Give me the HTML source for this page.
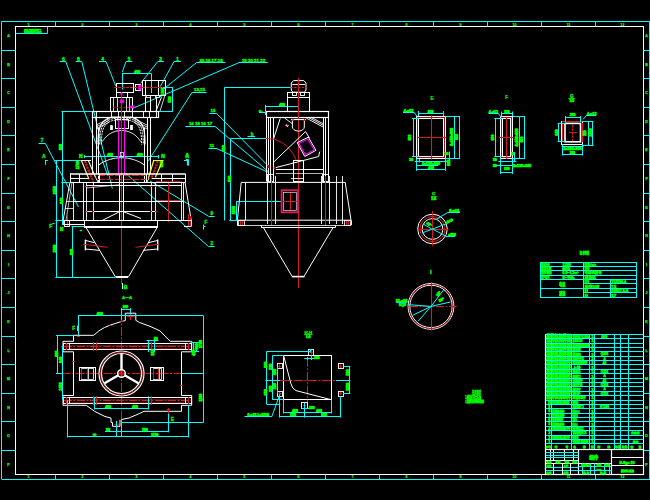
<!DOCTYPE html>
<html><head><meta charset="utf-8"><title>CAD drawing</title>
<style>
html,body{margin:0;padding:0;background:#000;}
body{width:650px;height:500px;overflow:hidden;}
svg{display:block;font-family:"Liberation Sans","Noto Sans CJK SC",sans-serif;}
</style></head><body>
<svg width="650" height="500" viewBox="0 0 650 500">
<rect x="0" y="0" width="650" height="500" fill="#000"/>
<line x1="1.5" y1="21.5" x2="650.0" y2="21.5" stroke="#00ffff" stroke-width="1"/>
<line x1="1.5" y1="479.5" x2="650.0" y2="479.5" stroke="#00ffff" stroke-width="1"/>
<line x1="1.5" y1="21.5" x2="1.5" y2="479.0" stroke="#00ffff" stroke-width="1"/>
<line x1="649.5" y1="21.5" x2="649.5" y2="479.0" stroke="#00ffff" stroke-width="1"/>
<rect x="15.5" y="26.5" width="628.0" height="448.0" fill="none" stroke="#ffffff" stroke-width="1"/>
<line x1="55.5" y1="21.5" x2="55.5" y2="26.5" stroke="#00ffff" stroke-width="1"/>
<line x1="55.5" y1="474.5" x2="55.5" y2="479.0" stroke="#00ffff" stroke-width="1"/>
<line x1="109.5" y1="21.5" x2="109.5" y2="26.5" stroke="#00ffff" stroke-width="1"/>
<line x1="109.5" y1="474.5" x2="109.5" y2="479.0" stroke="#00ffff" stroke-width="1"/>
<line x1="163.5" y1="21.5" x2="163.5" y2="26.5" stroke="#00ffff" stroke-width="1"/>
<line x1="163.5" y1="474.5" x2="163.5" y2="479.0" stroke="#00ffff" stroke-width="1"/>
<line x1="217.5" y1="21.5" x2="217.5" y2="26.5" stroke="#00ffff" stroke-width="1"/>
<line x1="217.5" y1="474.5" x2="217.5" y2="479.0" stroke="#00ffff" stroke-width="1"/>
<line x1="271.5" y1="21.5" x2="271.5" y2="26.5" stroke="#00ffff" stroke-width="1"/>
<line x1="271.5" y1="474.5" x2="271.5" y2="479.0" stroke="#00ffff" stroke-width="1"/>
<line x1="325.5" y1="21.5" x2="325.5" y2="26.5" stroke="#00ffff" stroke-width="1"/>
<line x1="325.5" y1="474.5" x2="325.5" y2="479.0" stroke="#00ffff" stroke-width="1"/>
<line x1="379.5" y1="21.5" x2="379.5" y2="26.5" stroke="#00ffff" stroke-width="1"/>
<line x1="379.5" y1="474.5" x2="379.5" y2="479.0" stroke="#00ffff" stroke-width="1"/>
<line x1="433.5" y1="21.5" x2="433.5" y2="26.5" stroke="#00ffff" stroke-width="1"/>
<line x1="433.5" y1="474.5" x2="433.5" y2="479.0" stroke="#00ffff" stroke-width="1"/>
<line x1="487.5" y1="21.5" x2="487.5" y2="26.5" stroke="#00ffff" stroke-width="1"/>
<line x1="487.5" y1="474.5" x2="487.5" y2="479.0" stroke="#00ffff" stroke-width="1"/>
<line x1="541.5" y1="21.5" x2="541.5" y2="26.5" stroke="#00ffff" stroke-width="1"/>
<line x1="541.5" y1="474.5" x2="541.5" y2="479.0" stroke="#00ffff" stroke-width="1"/>
<line x1="595.5" y1="21.5" x2="595.5" y2="26.5" stroke="#00ffff" stroke-width="1"/>
<line x1="595.5" y1="474.5" x2="595.5" y2="479.0" stroke="#00ffff" stroke-width="1"/>
<text x="28.5" y="25.7" font-size="3.4" fill="#00ff00" text-anchor="middle" font-weight="bold" stroke="#00ff00" stroke-width="0.2">1</text>
<text x="28.5" y="478.4" font-size="3.4" fill="#00ff00" text-anchor="middle" font-weight="bold" stroke="#00ff00" stroke-width="0.2">1</text>
<text x="82.5" y="25.7" font-size="3.4" fill="#00ff00" text-anchor="middle" font-weight="bold" stroke="#00ff00" stroke-width="0.2">2</text>
<text x="82.5" y="478.4" font-size="3.4" fill="#00ff00" text-anchor="middle" font-weight="bold" stroke="#00ff00" stroke-width="0.2">2</text>
<text x="136.5" y="25.7" font-size="3.4" fill="#00ff00" text-anchor="middle" font-weight="bold" stroke="#00ff00" stroke-width="0.2">3</text>
<text x="136.5" y="478.4" font-size="3.4" fill="#00ff00" text-anchor="middle" font-weight="bold" stroke="#00ff00" stroke-width="0.2">3</text>
<text x="190.5" y="25.7" font-size="3.4" fill="#00ff00" text-anchor="middle" font-weight="bold" stroke="#00ff00" stroke-width="0.2">4</text>
<text x="190.5" y="478.4" font-size="3.4" fill="#00ff00" text-anchor="middle" font-weight="bold" stroke="#00ff00" stroke-width="0.2">4</text>
<text x="244.5" y="25.7" font-size="3.4" fill="#00ff00" text-anchor="middle" font-weight="bold" stroke="#00ff00" stroke-width="0.2">5</text>
<text x="244.5" y="478.4" font-size="3.4" fill="#00ff00" text-anchor="middle" font-weight="bold" stroke="#00ff00" stroke-width="0.2">5</text>
<text x="298.5" y="25.7" font-size="3.4" fill="#00ff00" text-anchor="middle" font-weight="bold" stroke="#00ff00" stroke-width="0.2">6</text>
<text x="298.5" y="478.4" font-size="3.4" fill="#00ff00" text-anchor="middle" font-weight="bold" stroke="#00ff00" stroke-width="0.2">6</text>
<text x="352.5" y="25.7" font-size="3.4" fill="#00ff00" text-anchor="middle" font-weight="bold" stroke="#00ff00" stroke-width="0.2">7</text>
<text x="352.5" y="478.4" font-size="3.4" fill="#00ff00" text-anchor="middle" font-weight="bold" stroke="#00ff00" stroke-width="0.2">7</text>
<text x="406.5" y="25.7" font-size="3.4" fill="#00ff00" text-anchor="middle" font-weight="bold" stroke="#00ff00" stroke-width="0.2">8</text>
<text x="406.5" y="478.4" font-size="3.4" fill="#00ff00" text-anchor="middle" font-weight="bold" stroke="#00ff00" stroke-width="0.2">8</text>
<text x="460.5" y="25.7" font-size="3.4" fill="#00ff00" text-anchor="middle" font-weight="bold" stroke="#00ff00" stroke-width="0.2">9</text>
<text x="460.5" y="478.4" font-size="3.4" fill="#00ff00" text-anchor="middle" font-weight="bold" stroke="#00ff00" stroke-width="0.2">9</text>
<text x="514.5" y="25.7" font-size="3.4" fill="#00ff00" text-anchor="middle" font-weight="bold" stroke="#00ff00" stroke-width="0.2">10</text>
<text x="514.5" y="478.4" font-size="3.4" fill="#00ff00" text-anchor="middle" font-weight="bold" stroke="#00ff00" stroke-width="0.2">10</text>
<text x="568.5" y="25.7" font-size="3.4" fill="#00ff00" text-anchor="middle" font-weight="bold" stroke="#00ff00" stroke-width="0.2">11</text>
<text x="568.5" y="478.4" font-size="3.4" fill="#00ff00" text-anchor="middle" font-weight="bold" stroke="#00ff00" stroke-width="0.2">11</text>
<text x="622.5" y="25.7" font-size="3.4" fill="#00ff00" text-anchor="middle" font-weight="bold" stroke="#00ff00" stroke-width="0.2">12</text>
<text x="622.5" y="478.4" font-size="3.4" fill="#00ff00" text-anchor="middle" font-weight="bold" stroke="#00ff00" stroke-width="0.2">12</text>
<text x="8.5" y="36.9" font-size="3.6" fill="#00ff00" text-anchor="middle" font-weight="bold" stroke="#00ff00" stroke-width="0.25">A</text>
<text x="646.5" y="36.9" font-size="3.6" fill="#00ff00" text-anchor="middle" font-weight="bold" stroke="#00ff00" stroke-width="0.25">A</text>
<line x1="1.5" y1="50.5" x2="15.5" y2="50.5" stroke="#00ffff" stroke-width="1"/>
<line x1="643.5" y1="50.5" x2="650.0" y2="50.5" stroke="#00ffff" stroke-width="1"/>
<text x="8.5" y="65.5" font-size="3.6" fill="#00ff00" text-anchor="middle" font-weight="bold" stroke="#00ff00" stroke-width="0.25">B</text>
<text x="646.5" y="65.5" font-size="3.6" fill="#00ff00" text-anchor="middle" font-weight="bold" stroke="#00ff00" stroke-width="0.25">B</text>
<line x1="1.5" y1="78.5" x2="15.5" y2="78.5" stroke="#00ffff" stroke-width="1"/>
<line x1="643.5" y1="78.5" x2="650.0" y2="78.5" stroke="#00ffff" stroke-width="1"/>
<text x="8.5" y="94.1" font-size="3.6" fill="#00ff00" text-anchor="middle" font-weight="bold" stroke="#00ff00" stroke-width="0.25">C</text>
<text x="646.5" y="94.1" font-size="3.6" fill="#00ff00" text-anchor="middle" font-weight="bold" stroke="#00ff00" stroke-width="0.25">C</text>
<line x1="1.5" y1="107.5" x2="15.5" y2="107.5" stroke="#00ffff" stroke-width="1"/>
<line x1="643.5" y1="107.5" x2="650.0" y2="107.5" stroke="#00ffff" stroke-width="1"/>
<text x="8.5" y="122.7" font-size="3.6" fill="#00ff00" text-anchor="middle" font-weight="bold" stroke="#00ff00" stroke-width="0.25">D</text>
<text x="646.5" y="122.7" font-size="3.6" fill="#00ff00" text-anchor="middle" font-weight="bold" stroke="#00ff00" stroke-width="0.25">D</text>
<line x1="1.5" y1="135.5" x2="15.5" y2="135.5" stroke="#00ffff" stroke-width="1"/>
<line x1="643.5" y1="135.5" x2="650.0" y2="135.5" stroke="#00ffff" stroke-width="1"/>
<text x="8.5" y="151.3" font-size="3.6" fill="#00ff00" text-anchor="middle" font-weight="bold" stroke="#00ff00" stroke-width="0.25">E</text>
<text x="646.5" y="151.3" font-size="3.6" fill="#00ff00" text-anchor="middle" font-weight="bold" stroke="#00ff00" stroke-width="0.25">E</text>
<line x1="1.5" y1="164.5" x2="15.5" y2="164.5" stroke="#00ffff" stroke-width="1"/>
<line x1="643.5" y1="164.5" x2="650.0" y2="164.5" stroke="#00ffff" stroke-width="1"/>
<text x="8.5" y="179.9" font-size="3.6" fill="#00ff00" text-anchor="middle" font-weight="bold" stroke="#00ff00" stroke-width="0.25">F</text>
<text x="646.5" y="179.9" font-size="3.6" fill="#00ff00" text-anchor="middle" font-weight="bold" stroke="#00ff00" stroke-width="0.25">F</text>
<line x1="1.5" y1="193.5" x2="15.5" y2="193.5" stroke="#00ffff" stroke-width="1"/>
<line x1="643.5" y1="193.5" x2="650.0" y2="193.5" stroke="#00ffff" stroke-width="1"/>
<text x="8.5" y="208.5" font-size="3.6" fill="#00ff00" text-anchor="middle" font-weight="bold" stroke="#00ff00" stroke-width="0.25">G</text>
<text x="646.5" y="208.5" font-size="3.6" fill="#00ff00" text-anchor="middle" font-weight="bold" stroke="#00ff00" stroke-width="0.25">G</text>
<line x1="1.5" y1="221.5" x2="15.5" y2="221.5" stroke="#00ffff" stroke-width="1"/>
<line x1="643.5" y1="221.5" x2="650.0" y2="221.5" stroke="#00ffff" stroke-width="1"/>
<text x="8.5" y="237.1" font-size="3.6" fill="#00ff00" text-anchor="middle" font-weight="bold" stroke="#00ff00" stroke-width="0.25">H</text>
<text x="646.5" y="237.1" font-size="3.6" fill="#00ff00" text-anchor="middle" font-weight="bold" stroke="#00ff00" stroke-width="0.25">H</text>
<line x1="1.5" y1="250.5" x2="15.5" y2="250.5" stroke="#00ffff" stroke-width="1"/>
<line x1="643.5" y1="250.5" x2="650.0" y2="250.5" stroke="#00ffff" stroke-width="1"/>
<text x="8.5" y="265.7" font-size="3.6" fill="#00ff00" text-anchor="middle" font-weight="bold" stroke="#00ff00" stroke-width="0.25">I</text>
<text x="646.5" y="265.7" font-size="3.6" fill="#00ff00" text-anchor="middle" font-weight="bold" stroke="#00ff00" stroke-width="0.25">I</text>
<line x1="1.5" y1="278.5" x2="15.5" y2="278.5" stroke="#00ffff" stroke-width="1"/>
<line x1="643.5" y1="278.5" x2="650.0" y2="278.5" stroke="#00ffff" stroke-width="1"/>
<text x="8.5" y="294.3" font-size="3.6" fill="#00ff00" text-anchor="middle" font-weight="bold" stroke="#00ff00" stroke-width="0.25">J</text>
<text x="646.5" y="294.3" font-size="3.6" fill="#00ff00" text-anchor="middle" font-weight="bold" stroke="#00ff00" stroke-width="0.25">J</text>
<line x1="1.5" y1="307.5" x2="15.5" y2="307.5" stroke="#00ffff" stroke-width="1"/>
<line x1="643.5" y1="307.5" x2="650.0" y2="307.5" stroke="#00ffff" stroke-width="1"/>
<text x="8.5" y="322.9" font-size="3.6" fill="#00ff00" text-anchor="middle" font-weight="bold" stroke="#00ff00" stroke-width="0.25">K</text>
<text x="646.5" y="322.9" font-size="3.6" fill="#00ff00" text-anchor="middle" font-weight="bold" stroke="#00ff00" stroke-width="0.25">K</text>
<line x1="1.5" y1="336.5" x2="15.5" y2="336.5" stroke="#00ffff" stroke-width="1"/>
<line x1="643.5" y1="336.5" x2="650.0" y2="336.5" stroke="#00ffff" stroke-width="1"/>
<text x="8.5" y="351.5" font-size="3.6" fill="#00ff00" text-anchor="middle" font-weight="bold" stroke="#00ff00" stroke-width="0.25">L</text>
<text x="646.5" y="351.5" font-size="3.6" fill="#00ff00" text-anchor="middle" font-weight="bold" stroke="#00ff00" stroke-width="0.25">L</text>
<line x1="1.5" y1="364.5" x2="15.5" y2="364.5" stroke="#00ffff" stroke-width="1"/>
<line x1="643.5" y1="364.5" x2="650.0" y2="364.5" stroke="#00ffff" stroke-width="1"/>
<text x="8.5" y="380.1" font-size="3.6" fill="#00ff00" text-anchor="middle" font-weight="bold" stroke="#00ff00" stroke-width="0.25">M</text>
<text x="646.5" y="380.1" font-size="3.6" fill="#00ff00" text-anchor="middle" font-weight="bold" stroke="#00ff00" stroke-width="0.25">M</text>
<line x1="1.5" y1="393.5" x2="15.5" y2="393.5" stroke="#00ffff" stroke-width="1"/>
<line x1="643.5" y1="393.5" x2="650.0" y2="393.5" stroke="#00ffff" stroke-width="1"/>
<text x="8.5" y="408.7" font-size="3.6" fill="#00ff00" text-anchor="middle" font-weight="bold" stroke="#00ff00" stroke-width="0.25">N</text>
<text x="646.5" y="408.7" font-size="3.6" fill="#00ff00" text-anchor="middle" font-weight="bold" stroke="#00ff00" stroke-width="0.25">N</text>
<line x1="1.5" y1="421.5" x2="15.5" y2="421.5" stroke="#00ffff" stroke-width="1"/>
<line x1="643.5" y1="421.5" x2="650.0" y2="421.5" stroke="#00ffff" stroke-width="1"/>
<text x="8.5" y="437.3" font-size="3.6" fill="#00ff00" text-anchor="middle" font-weight="bold" stroke="#00ff00" stroke-width="0.25">O</text>
<text x="646.5" y="437.3" font-size="3.6" fill="#00ff00" text-anchor="middle" font-weight="bold" stroke="#00ff00" stroke-width="0.25">O</text>
<line x1="1.5" y1="450.5" x2="15.5" y2="450.5" stroke="#00ffff" stroke-width="1"/>
<line x1="643.5" y1="450.5" x2="650.0" y2="450.5" stroke="#00ffff" stroke-width="1"/>
<text x="8.5" y="465.9" font-size="3.6" fill="#00ff00" text-anchor="middle" font-weight="bold" stroke="#00ff00" stroke-width="0.25">P</text>
<text x="646.5" y="465.9" font-size="3.6" fill="#00ff00" text-anchor="middle" font-weight="bold" stroke="#00ff00" stroke-width="0.25">P</text>
<line x1="15.5" y1="33.5" x2="47.6" y2="33.5" stroke="#00ffff" stroke-width="1"/>
<line x1="47.5" y1="26.5" x2="47.5" y2="33.5" stroke="#00ffff" stroke-width="1"/>
<text x="32.2" y="32.5" font-size="5.2" fill="#00ff00" text-anchor="middle" font-weight="bold" stroke="#00ff00" stroke-width="0.55" letter-spacing="-0.95">01-00XSG</text>
<line x1="59.7" y1="61.5" x2="65.8" y2="61.5" stroke="#00ffff" stroke-width="1"/>
<line x1="65.8" y1="61.6" x2="108.0" y2="176.0" stroke="#00ffff" stroke-width="1"/>
<text x="63.4" y="60.6" font-size="4.5" fill="#00ff00" text-anchor="middle" font-weight="bold" stroke="#00ff00" stroke-width="0.35">6</text>
<line x1="75.7" y1="61.5" x2="81.8" y2="61.5" stroke="#00ffff" stroke-width="1"/>
<line x1="81.8" y1="61.6" x2="112.3" y2="188.5" stroke="#00ffff" stroke-width="1"/>
<text x="78.6" y="60.6" font-size="4.5" fill="#00ff00" text-anchor="middle" font-weight="bold" stroke="#00ff00" stroke-width="0.35">8</text>
<line x1="99.0" y1="61.5" x2="106.0" y2="61.5" stroke="#00ffff" stroke-width="1"/>
<line x1="106.0" y1="61.6" x2="116.0" y2="86.5" stroke="#00ffff" stroke-width="1"/>
<text x="102.8" y="60.6" font-size="4.5" fill="#00ff00" text-anchor="middle" font-weight="bold" stroke="#00ff00" stroke-width="0.35">4</text>
<line x1="126.0" y1="61.5" x2="132.3" y2="61.5" stroke="#00ffff" stroke-width="1"/>
<line x1="126.0" y1="61.6" x2="122.2" y2="72.3" stroke="#00ffff" stroke-width="1"/>
<text x="129.0" y="60.6" font-size="4.5" fill="#00ff00" text-anchor="middle" font-weight="bold" stroke="#00ff00" stroke-width="0.35">5</text>
<line x1="157.7" y1="61.5" x2="163.8" y2="61.5" stroke="#00ffff" stroke-width="1"/>
<line x1="157.7" y1="61.6" x2="140.6" y2="83.4" stroke="#00ffff" stroke-width="1"/>
<text x="160.6" y="60.6" font-size="4.5" fill="#00ff00" text-anchor="middle" font-weight="bold" stroke="#00ff00" stroke-width="0.35">3</text>
<line x1="174.0" y1="61.5" x2="180.8" y2="61.5" stroke="#00ffff" stroke-width="1"/>
<line x1="174.0" y1="61.6" x2="160.3" y2="86.5" stroke="#00ffff" stroke-width="1"/>
<text x="177.4" y="60.6" font-size="4.5" fill="#00ff00" text-anchor="middle" font-weight="bold" stroke="#00ff00" stroke-width="0.35">1</text>
<line x1="196.4" y1="62.5" x2="225.3" y2="62.5" stroke="#00ffff" stroke-width="1"/>
<line x1="196.4" y1="62.7" x2="162.2" y2="90.2" stroke="#00ffff" stroke-width="1"/>
<text x="211.0" y="61.6" font-size="4.4" fill="#00ff00" text-anchor="middle" font-weight="bold" stroke="#00ff00" stroke-width="0.35">30,16,17,18</text>
<line x1="238.9" y1="62.5" x2="267.8" y2="62.5" stroke="#00ffff" stroke-width="1"/>
<line x1="238.9" y1="62.7" x2="133.2" y2="108.2" stroke="#00ffff" stroke-width="1"/>
<text x="253.5" y="61.6" font-size="4.4" fill="#00ff00" text-anchor="middle" font-weight="bold" stroke="#00ff00" stroke-width="0.35">19 20 21 22</text>
<line x1="192.0" y1="92.5" x2="206.6" y2="92.5" stroke="#00ffff" stroke-width="1"/>
<line x1="192.0" y1="92.4" x2="148.3" y2="160.8" stroke="#00ffff" stroke-width="1"/>
<text x="199.5" y="91.3" font-size="4.4" fill="#00ff00" text-anchor="middle" font-weight="bold" stroke="#00ff00" stroke-width="0.35">13,15</text>
<line x1="38.5" y1="143.5" x2="45.4" y2="143.5" stroke="#00ffff" stroke-width="1"/>
<line x1="45.4" y1="143.5" x2="78.5" y2="207.0" stroke="#00ffff" stroke-width="1"/>
<text x="42.0" y="142.4" font-size="4.5" fill="#00ff00" text-anchor="middle" font-weight="bold" stroke="#00ff00" stroke-width="0.35">7</text>
<line x1="208.5" y1="216.5" x2="214.6" y2="216.5" stroke="#00ffff" stroke-width="1"/>
<line x1="208.5" y1="216.2" x2="150.0" y2="181.0" stroke="#00ffff" stroke-width="1"/>
<text x="211.7" y="215.2" font-size="4.5" fill="#00ff00" text-anchor="middle" font-weight="bold" stroke="#00ff00" stroke-width="0.35">9</text>
<line x1="208.5" y1="246.5" x2="214.6" y2="246.5" stroke="#00ffff" stroke-width="1"/>
<line x1="208.5" y1="246.5" x2="125.8" y2="173.5" stroke="#00ffff" stroke-width="1"/>
<text x="211.7" y="245.4" font-size="4.5" fill="#00ff00" text-anchor="middle" font-weight="bold" stroke="#00ff00" stroke-width="0.35">2</text>
<line x1="122.0" y1="73.5" x2="151.0" y2="73.5" stroke="#00ffff" stroke-width="1"/>
<line x1="122.5" y1="73.3" x2="122.5" y2="89.5" stroke="#00ffff" stroke-width="1"/>
<line x1="151.5" y1="73.3" x2="151.5" y2="93.0" stroke="#00ffff" stroke-width="1"/>
<text x="137.2" y="72.6" font-size="3.6" fill="#00ff00" text-anchor="middle" font-weight="bold" stroke="#00ff00" stroke-width="0.6">400</text>
<line x1="172.5" y1="87.3" x2="172.5" y2="111.0" stroke="#00ffff" stroke-width="1"/>
<line x1="163.0" y1="87.5" x2="172.8" y2="87.5" stroke="#00ffff" stroke-width="1"/>
<line x1="158.0" y1="111.5" x2="172.8" y2="111.5" stroke="#00ffff" stroke-width="1"/>
<text x="171.5" y="99.4" font-size="3.6" fill="#00ff00" text-anchor="middle" font-weight="bold" stroke="#00ff00" stroke-width="0.7" transform="rotate(-90 171.5 99.4)">530</text>
<text x="164.1" y="91.2" font-size="3.6" fill="#00ff00" text-anchor="middle" font-weight="bold" stroke="#00ff00" stroke-width="0.7" transform="rotate(-90 164.1 91.2)">1200</text>
<line x1="62.5" y1="111.5" x2="62.5" y2="225.0" stroke="#00ffff" stroke-width="1"/>
<line x1="61.5" y1="111.5" x2="93.0" y2="111.5" stroke="#00ffff" stroke-width="1"/>
<text x="62.2" y="146.9" font-size="3.6" fill="#00ff00" text-anchor="middle" font-weight="bold" stroke="#00ff00" stroke-width="0.7" transform="rotate(-90 62.2 146.9)">860</text>
<text x="62.6" y="200.7" font-size="3.6" fill="#00ff00" text-anchor="middle" font-weight="bold" stroke="#00ff00" stroke-width="0.7" transform="rotate(-90 62.6 200.7)">640</text>
<line x1="56.5" y1="160.8" x2="56.5" y2="277.3" stroke="#00ffff" stroke-width="1"/>
<line x1="54.6" y1="160.5" x2="80.8" y2="160.5" stroke="#00ffff" stroke-width="1"/>
<line x1="55.4" y1="277.5" x2="115.4" y2="277.5" stroke="#00ffff" stroke-width="1"/>
<text x="55.9" y="190.2" font-size="3.6" fill="#00ff00" text-anchor="middle" font-weight="bold" stroke="#00ff00" stroke-width="0.7" transform="rotate(-90 55.9 190.2)">2450</text>
<text x="55.9" y="248.7" font-size="3.6" fill="#00ff00" text-anchor="middle" font-weight="bold" stroke="#00ff00" stroke-width="0.7" transform="rotate(-90 55.9 248.7)">1100</text>
<line x1="72.5" y1="226.5" x2="72.5" y2="277.3" stroke="#00ffff" stroke-width="1"/>
<line x1="71.5" y1="226.5" x2="84.6" y2="226.5" stroke="#00ffff" stroke-width="1"/>
<text x="72.8" y="251.9" font-size="3.6" fill="#00ff00" text-anchor="middle" font-weight="bold" stroke="#00ff00" stroke-width="0.7" transform="rotate(-90 72.8 251.9)">320</text>
<line x1="55.4" y1="220.5" x2="63.0" y2="220.5" stroke="#00ffff" stroke-width="1"/>
<line x1="61.5" y1="182.5" x2="69.0" y2="182.5" stroke="#00ffff" stroke-width="1"/>
<line x1="84.6" y1="156.5" x2="158.8" y2="156.5" stroke="#00ffff" stroke-width="1"/>
<line x1="84.5" y1="155.0" x2="84.5" y2="158.0" stroke="#00ffff" stroke-width="1"/>
<line x1="158.5" y1="155.0" x2="158.5" y2="158.5" stroke="#00ffff" stroke-width="1"/>
<text x="110.0" y="156.0" font-size="3.4" fill="#00ff00" text-anchor="middle" font-weight="bold" stroke="#00ff00" stroke-width="0.7">460</text>
<text x="139.8" y="156.0" font-size="3.4" fill="#00ff00" text-anchor="middle" font-weight="bold" stroke="#00ff00" stroke-width="0.7">460</text>
<text x="80.8" y="158.0" font-size="5" fill="#00ff00" text-anchor="middle" font-weight="bold" stroke="#00ff00" stroke-width="0.4">N</text>
<text x="163.0" y="158.4" font-size="5" fill="#00ff00" text-anchor="middle" font-weight="bold" stroke="#00ff00" stroke-width="0.4">N</text>
<text x="79.0" y="165.2" font-size="3.6" fill="#00ff00" text-anchor="middle" font-weight="bold" stroke="#00ff00" stroke-width="0.7" transform="rotate(-90 79.0 165.2)">1790</text>
<text x="163.0" y="164.2" font-size="3.6" fill="#00ff00" text-anchor="middle" font-weight="bold" stroke="#00ff00" stroke-width="0.7" transform="rotate(-90 163.0 164.2)">980</text>
<text x="61.5" y="231.3" font-size="4.5" fill="#00ff00" text-anchor="middle" font-weight="bold" stroke="#00ff00" stroke-width="0.5">N</text>
<text x="80.8" y="231.6" font-size="5" fill="#00ff00" text-anchor="middle" font-weight="bold" stroke="#00ff00" stroke-width="0.8">-</text>
<text x="43.8" y="158.0" font-size="5" fill="#00ff00" text-anchor="middle" font-weight="bold" stroke="#00ff00" stroke-width="0.3">A</text>
<line x1="45.5" y1="160.0" x2="45.5" y2="164.8" stroke="#00ffff" stroke-width="1"/>
<line x1="45.4" y1="160.5" x2="47.8" y2="160.5" stroke="#00ffff" stroke-width="1"/>
<text x="187.4" y="158.0" font-size="5" fill="#00ff00" text-anchor="middle" font-weight="bold" stroke="#00ff00" stroke-width="0.3">A</text>
<line x1="187.5" y1="160.0" x2="187.5" y2="165.6" stroke="#00ffff" stroke-width="1"/>
<line x1="184.0" y1="160.5" x2="187.7" y2="160.5" stroke="#00ffff" stroke-width="1"/>
<text x="50.8" y="227.5" font-size="5" fill="#00ff00" text-anchor="middle" font-weight="bold" stroke="#00ff00" stroke-width="0.3">F</text>
<line x1="52.5" y1="223.5" x2="54.5" y2="223.5" stroke="#00ffff" stroke-width="1"/>
<text x="205.8" y="224.0" font-size="4.5" fill="#00ff00" text-anchor="middle" font-weight="bold" stroke="#00ff00" stroke-width="0.3">F</text>
<line x1="203.5" y1="224.5" x2="203.5" y2="229.5" stroke="#00ffff" stroke-width="1"/>
<line x1="203.8" y1="226.5" x2="205.5" y2="226.5" stroke="#00ffff" stroke-width="1"/>
<text x="125.6" y="288.6" font-size="5.6" fill="#00ff00" text-anchor="middle" font-weight="bold" stroke="#00ff00" stroke-width="0.35">B</text>
<line x1="122.5" y1="283.0" x2="122.5" y2="289.0" stroke="#aaffff" stroke-width="1"/>
<text x="127.0" y="298.8" font-size="4.2" fill="#00ff00" text-anchor="middle" font-weight="bold" stroke="#00ff00" stroke-width="0.3">A—A</text>
<rect x="116.5" y="83.5" width="17.0" height="9.0" fill="none" stroke="#ffffff" stroke-width="1"/>
<rect x="135.5" y="84.5" width="5.0" height="6.0" fill="none" stroke="#ffffff" stroke-width="1"/>
<rect x="138.8" y="85.2" width="2.2" height="4.6" fill="#ff00ff" stroke="#ff00ff" stroke-width="1"/>
<rect x="142.5" y="80.5" width="23.0" height="15.0" fill="none" stroke="#ffffff" stroke-width="1"/>
<line x1="145.5" y1="80.3" x2="145.5" y2="95.1" stroke="#ffffff" stroke-width="1"/>
<line x1="158.5" y1="80.3" x2="158.5" y2="95.1" stroke="#ffffff" stroke-width="1"/>
<rect x="146.5" y="95.5" width="4.0" height="2.0" fill="none" stroke="#ffffff" stroke-width="0.8"/>
<rect x="155.5" y="95.5" width="4.0" height="2.0" fill="none" stroke="#ffffff" stroke-width="0.8"/>
<line x1="114.0" y1="87.5" x2="163.0" y2="87.5" stroke="#d81c1c" stroke-width="1" stroke-dasharray="3 1"/>
<rect x="116.5" y="92.5" width="11.0" height="5.0" fill="none" stroke="#ffffff" stroke-width="1"/>
<rect x="110.5" y="97.5" width="22.0" height="14.0" fill="none" stroke="#ffffff" stroke-width="1"/>
<line x1="113.5" y1="97.5" x2="113.5" y2="111.5" stroke="#ffffff" stroke-width="0.8"/>
<line x1="117.5" y1="97.5" x2="117.5" y2="111.5" stroke="#ffffff" stroke-width="0.8"/>
<line x1="126.5" y1="97.5" x2="126.5" y2="111.5" stroke="#ffffff" stroke-width="0.8"/>
<line x1="129.5" y1="97.5" x2="129.5" y2="111.5" stroke="#ffffff" stroke-width="0.8"/>
<line x1="113.0" y1="107.5" x2="130.0" y2="107.5" stroke="#d81c1c" stroke-width="0.8" stroke-dasharray="2 1.5"/>
<rect x="120.3" y="100.0" width="3.1" height="2.6" fill="#ff00ff" stroke="#ff00ff" stroke-width="1"/>
<rect x="130.0" y="106.0" width="4.0" height="2.0" fill="#ff00ff" stroke="#ff00ff" stroke-width="0.8"/>
<line x1="121.5" y1="92.0" x2="121.5" y2="111.0" stroke="#d81c1c" stroke-width="1.2"/>
<polyline points="119.5,95.5 121.5,92.5 123.5,95.5" fill="none" stroke="#ff00ff" stroke-width="0.8"/>
<line x1="145.5" y1="96.5" x2="145.5" y2="111.5" stroke="#ffffff" stroke-width="1"/>
<line x1="150.5" y1="96.5" x2="150.5" y2="111.5" stroke="#ffffff" stroke-width="1"/>
<line x1="156.5" y1="96.5" x2="156.5" y2="111.5" stroke="#ffffff" stroke-width="1"/>
<line x1="161.5" y1="97.0" x2="156.0" y2="111.0" stroke="#ffffff" stroke-width="1"/>
<line x1="165.0" y1="95.1" x2="160.0" y2="111.0" stroke="#ffffff" stroke-width="0.8"/>
<rect x="92.5" y="111.5" width="66.0" height="6.0" fill="none" stroke="#ffffff" stroke-width="1.2"/>
<line x1="96.5" y1="111.5" x2="96.5" y2="117.0" stroke="#ffffff" stroke-width="0.9"/>
<line x1="111.5" y1="111.5" x2="111.5" y2="117.0" stroke="#ffffff" stroke-width="0.9"/>
<line x1="118.5" y1="111.5" x2="118.5" y2="117.0" stroke="#ffffff" stroke-width="0.9"/>
<line x1="124.5" y1="111.5" x2="124.5" y2="117.0" stroke="#ffffff" stroke-width="0.9"/>
<line x1="132.5" y1="111.5" x2="132.5" y2="117.0" stroke="#ffffff" stroke-width="0.9"/>
<line x1="143.5" y1="111.5" x2="143.5" y2="117.0" stroke="#ffffff" stroke-width="0.9"/>
<line x1="149.5" y1="111.5" x2="149.5" y2="117.0" stroke="#ffffff" stroke-width="0.9"/>
<line x1="156.5" y1="111.5" x2="156.5" y2="117.0" stroke="#ffffff" stroke-width="0.9"/>
<line x1="92.5" y1="117.0" x2="92.5" y2="173.8" stroke="#ffffff" stroke-width="1"/>
<line x1="96.5" y1="117.0" x2="96.5" y2="173.8" stroke="#ffffff" stroke-width="1"/>
<line x1="147.5" y1="117.0" x2="147.5" y2="173.8" stroke="#ffffff" stroke-width="1"/>
<line x1="150.5" y1="117.0" x2="150.5" y2="173.8" stroke="#ffffff" stroke-width="1"/>
<polyline points="98.0,144.5 98.0,140.6 98.1,138.3 98.2,136.4 98.3,134.7 98.5,133.1 98.8,131.7 99.1,130.4 99.4,129.1 99.7,128.0 100.1,126.9 100.6,125.8 101.1,124.9 101.6,123.9 102.2,123.1 102.8,122.3 103.5,121.5 104.2,120.8 105.0,120.2 105.8,119.6 106.7,119.1 107.6,118.6 108.6,118.1 109.6,117.8 110.8,117.4 112.0,117.1 113.3,117.0 114.7,117.0 116.3,117.0 118.2,117.0 121.5,117.0 124.8,117.0 126.7,117.0 128.3,117.0 129.7,117.0 131.0,117.1 132.2,117.4 133.4,117.8 134.4,118.1 135.4,118.6 136.3,119.1 137.2,119.6 138.0,120.2 138.8,120.8 139.5,121.5 140.2,122.3 140.8,123.1 141.4,123.9 141.9,124.9 142.4,125.8 142.9,126.9 143.3,128.0 143.6,129.1 143.9,130.4 144.2,131.7 144.5,133.1 144.7,134.7 144.8,136.4 144.9,138.3 145.0,140.6 145.0,144.5" fill="none" stroke="#ffffff" stroke-width="1.1"/>
<polyline points="99.7,144.5 99.7,140.8 99.8,138.7 99.9,136.9 100.0,135.3 100.2,133.8 100.4,132.5 100.7,131.2 101.0,130.1 101.3,129.0 101.7,127.9 102.1,127.0 102.6,126.0 103.1,125.2 103.6,124.4 104.2,123.6 104.8,122.9 105.5,122.3 106.2,121.7 107.0,121.1 107.8,120.6 108.6,120.1 109.5,119.7 110.5,119.4 111.5,119.1 112.6,118.8 113.8,118.6 115.2,118.4 116.7,118.3 118.4,118.2 121.5,118.2 124.6,118.2 126.3,118.3 127.8,118.4 129.2,118.6 130.4,118.8 131.5,119.1 132.5,119.4 133.5,119.7 134.4,120.1 135.2,120.6 136.0,121.1 136.8,121.7 137.5,122.3 138.2,122.9 138.8,123.6 139.4,124.4 139.9,125.2 140.4,126.0 140.9,127.0 141.3,127.9 141.7,129.0 142.0,130.1 142.3,131.2 142.6,132.5 142.8,133.8 143.0,135.3 143.1,136.9 143.2,138.7 143.3,140.8 143.3,144.5" fill="none" stroke="#ffffff" stroke-width="1" stroke-dasharray="2.2 0.8"/>
<polyline points="101.4,144.5 101.4,141.1 101.5,139.0 101.6,137.4 101.7,135.9 101.9,134.5 102.1,133.3 102.3,132.1 102.6,131.0 102.9,130.0 103.2,129.0 103.6,128.1 104.0,127.2 104.5,126.4 105.0,125.7 105.5,125.0 106.1,124.3 106.7,123.7 107.4,123.1 108.1,122.6 108.8,122.1 109.6,121.7 110.5,121.3 111.4,121.0 112.3,120.7 113.3,120.5 114.4,120.3 115.7,120.1 117.0,120.0 118.7,119.9 121.5,119.9 124.3,119.9 126.0,120.0 127.3,120.1 128.6,120.3 129.7,120.5 130.7,120.7 131.6,121.0 132.5,121.3 133.4,121.7 134.2,122.1 134.9,122.6 135.6,123.1 136.3,123.7 136.9,124.3 137.5,125.0 138.0,125.7 138.5,126.4 139.0,127.2 139.4,128.1 139.8,129.0 140.1,130.0 140.4,131.0 140.7,132.1 140.9,133.3 141.1,134.5 141.3,135.9 141.4,137.4 141.5,139.0 141.6,141.1 141.6,144.5" fill="none" stroke="#ffffff" stroke-width="1" stroke-dasharray="2.2 0.8"/>
<line x1="133.5" y1="118.4" x2="147.0" y2="125.1" stroke="#ffffff" stroke-width="0.8"/>
<line x1="109.5" y1="118.4" x2="96.0" y2="125.1" stroke="#ffffff" stroke-width="0.8"/>
<line x1="133.7" y1="120.3" x2="147.0" y2="127.0" stroke="#ffffff" stroke-width="0.8"/>
<line x1="109.3" y1="120.3" x2="96.0" y2="127.0" stroke="#ffffff" stroke-width="0.8"/>
<line x1="133.9" y1="122.2" x2="147.0" y2="128.9" stroke="#ffffff" stroke-width="0.8"/>
<line x1="109.1" y1="122.2" x2="96.0" y2="128.9" stroke="#ffffff" stroke-width="0.8"/>
<polyline points="102.4,141.5 103.0,140.5 103.7,139.6 104.4,138.7 105.2,137.8 105.9,136.9 106.8,136.2 107.7,135.4 108.6,134.7 109.5,134.0 110.5,133.4 111.5,132.9 112.6,132.4 113.6,132.0 114.7,131.6 115.8,131.2 116.9,131.0 118.1,130.8 119.2,130.6 120.3,130.5 121.5,130.5 122.7,130.5 123.8,130.6 124.9,130.8 126.1,131.0 127.2,131.2 128.3,131.6 129.4,132.0 130.4,132.4 131.5,132.9 132.5,133.4 133.5,134.0 134.4,134.7 135.3,135.4 136.2,136.2 137.1,136.9 137.8,137.8 138.6,138.7 139.3,139.6 140.0,140.5 140.6,141.5" fill="none" stroke="#ffffff" stroke-width="1"/>
<polyline points="99.0,164.7 100.0,164.1 101.0,163.4 102.1,162.8 103.1,162.2 104.2,161.7 105.3,161.2 106.3,160.7 107.5,160.3 108.6,159.9 109.7,159.5 110.9,159.2 112.0,158.9 113.2,158.6 114.4,158.4 115.5,158.2 116.7,158.0 117.9,157.9 119.1,157.8 120.3,157.7 121.5,157.7 122.7,157.7 123.9,157.8 125.1,157.9 126.3,158.0 127.5,158.2 128.6,158.4 129.8,158.6 131.0,158.9 132.1,159.2 133.3,159.5 134.4,159.9 135.5,160.3 136.7,160.7 137.7,161.2 138.8,161.7 139.9,162.2 140.9,162.8 142.0,163.4 143.0,164.1 144.0,164.7" fill="none" stroke="#ffffff" stroke-width="1"/>
<rect x="115.5" y="119.5" width="13.0" height="9.0" fill="none" stroke="#ffffff" stroke-width="1"/>
<rect x="110.6" y="125.6" width="1.8" height="4.0" fill="#ffffff" stroke="#ffffff" stroke-width="0.8"/>
<rect x="130.6" y="125.4" width="1.8" height="4.2" fill="#ffffff" stroke="#ffffff" stroke-width="0.8"/>
<line x1="118.5" y1="120.0" x2="118.5" y2="176.0" stroke="#ff00ff" stroke-width="1"/>
<line x1="124.5" y1="120.0" x2="124.5" y2="176.0" stroke="#ff00ff" stroke-width="1"/>
<line x1="121.5" y1="111.0" x2="121.5" y2="284.0" stroke="#d81c1c" stroke-width="1.1"/>
<polygon points="121.5,155.5 123.0,157.0 121.5,158.5 120.0,157.0" fill="#00ffff" stroke="#00ffff" stroke-width="1"/>
<rect x="120.5" y="152.5" width="3.0" height="4.0" fill="none" stroke="#ffffff" stroke-width="0.7"/>
<polyline points="81.5,160.8 89.0,179.2" fill="none" stroke="#ffee80" stroke-width="1.2"/>
<polyline points="88.3,160.5 95.5,177.2" fill="none" stroke="#ffffc0" stroke-width="1.1"/>
<line x1="80.8" y1="160.5" x2="91.0" y2="160.5" stroke="#ffffff" stroke-width="1"/>
<line x1="84.8" y1="161.2" x2="93.4" y2="181.6" stroke="#d81c1c" stroke-width="2" stroke-dasharray="2.2 0.8"/>
<polyline points="153.7,160.5 148.3,178.5" fill="none" stroke="#ffff00" stroke-width="1.2"/>
<polyline points="162.6,160.5 155.4,177.2" fill="none" stroke="#ffff00" stroke-width="1.2"/>
<line x1="153.0" y1="160.5" x2="163.6" y2="160.5" stroke="#ffff00" stroke-width="1"/>
<line x1="157.8" y1="161.2" x2="151.3" y2="179.2" stroke="#d81c1c" stroke-width="2" stroke-dasharray="2.2 0.8"/>
<line x1="95.5" y1="177.2" x2="98.0" y2="182.0" stroke="#ffffff" stroke-width="1"/>
<line x1="148.8" y1="178.5" x2="147.0" y2="182.0" stroke="#ffffff" stroke-width="1"/>
<line x1="98.5" y1="128.0" x2="98.5" y2="182.0" stroke="#ffffff" stroke-width="1"/>
<line x1="144.5" y1="128.0" x2="144.5" y2="182.0" stroke="#ffffff" stroke-width="1"/>
<line x1="70.0" y1="174.0" x2="185.0" y2="174.0" stroke="#ffffff" stroke-width="1.5"/>
<line x1="70.0" y1="182.5" x2="185.0" y2="182.5" stroke="#ffffff" stroke-width="1.2"/>
<line x1="70.5" y1="173.5" x2="70.5" y2="182.5" stroke="#ffffff" stroke-width="1"/>
<line x1="185.5" y1="173.5" x2="185.5" y2="182.5" stroke="#ffffff" stroke-width="1"/>
<line x1="70.0" y1="178.5" x2="88.0" y2="178.5" stroke="#ffffff" stroke-width="1"/>
<line x1="152.0" y1="178.5" x2="185.0" y2="178.5" stroke="#ffffff" stroke-width="1"/>
<line x1="79.5" y1="174.0" x2="79.5" y2="182.0" stroke="#ffffff" stroke-width="1"/>
<line x1="161.5" y1="174.0" x2="161.5" y2="182.0" stroke="#ffffff" stroke-width="1"/>
<line x1="172.5" y1="174.0" x2="172.5" y2="182.0" stroke="#ffffff" stroke-width="1"/>
<line x1="98.0" y1="175.5" x2="147.0" y2="175.5" stroke="#d81c1c" stroke-width="1.2" stroke-dasharray="7 1.5"/>
<line x1="98.0" y1="179.5" x2="147.0" y2="179.5" stroke="#d81c1c" stroke-width="1.2" stroke-dasharray="7 1.5"/>
<line x1="156.0" y1="181.5" x2="182.0" y2="181.5" stroke="#d81c1c" stroke-width="0.8"/>
<line x1="99.5" y1="173.8" x2="99.5" y2="182.0" stroke="#ffffff" stroke-width="1"/>
<line x1="146.5" y1="173.8" x2="146.5" y2="182.0" stroke="#ffffff" stroke-width="1"/>
<polyline points="70.0,182.1 63.0,220.8" fill="none" stroke="#ffffff" stroke-width="1"/>
<polyline points="185.0,182.1 191.5,222.3" fill="none" stroke="#ffffff" stroke-width="1"/>
<polyline points="72.0,182.1 66.0,220.8" fill="none" stroke="#ffffff" stroke-width="0.7"/>
<line x1="73.5" y1="182.1" x2="73.5" y2="220.8" stroke="#ffffff" stroke-width="0.9"/>
<line x1="83.5" y1="182.1" x2="83.5" y2="220.8" stroke="#ffffff" stroke-width="0.9"/>
<line x1="86.5" y1="182.1" x2="86.5" y2="220.8" stroke="#ffffff" stroke-width="0.9"/>
<line x1="93.5" y1="182.1" x2="93.5" y2="220.8" stroke="#ffffff" stroke-width="0.9"/>
<line x1="151.5" y1="182.1" x2="151.5" y2="220.8" stroke="#ffffff" stroke-width="0.9"/>
<line x1="155.5" y1="182.1" x2="155.5" y2="220.8" stroke="#ffffff" stroke-width="0.9"/>
<line x1="181.5" y1="182.1" x2="181.5" y2="220.8" stroke="#ffffff" stroke-width="0.9"/>
<line x1="183.5" y1="182.1" x2="183.5" y2="220.8" stroke="#ffffff" stroke-width="0.9"/>
<line x1="119.5" y1="175.0" x2="119.5" y2="221.0" stroke="#ffffff" stroke-width="1"/>
<line x1="123.5" y1="175.0" x2="123.5" y2="221.0" stroke="#ffffff" stroke-width="1"/>
<line x1="86.6" y1="185.5" x2="181.5" y2="185.5" stroke="#ffffff" stroke-width="1"/>
<line x1="73.0" y1="201.5" x2="183.0" y2="201.5" stroke="#ffffff" stroke-width="1"/>
<line x1="86.2" y1="211.5" x2="156.2" y2="211.5" stroke="#ffffff" stroke-width="1"/>
<line x1="63.0" y1="220.5" x2="191.5" y2="220.5" stroke="#ffffff" stroke-width="1"/>
<line x1="66.0" y1="201.5" x2="73.0" y2="201.5" stroke="#ffffff" stroke-width="0.8"/>
<line x1="65.0" y1="208.5" x2="73.0" y2="208.5" stroke="#ffffff" stroke-width="0.8"/>
<polyline points="101.5,220.8 120.0,211.5" fill="none" stroke="#ffffff" stroke-width="1"/>
<polyline points="123.0,211.5 141.0,218.5" fill="none" stroke="#ffffff" stroke-width="1"/>
<polyline points="86.0,188.0 119.0,184.8" fill="none" stroke="#ffffff" stroke-width="0.7"/>
<line x1="168.5" y1="183.0" x2="168.5" y2="222.0" stroke="#d81c1c" stroke-width="1"/>
<line x1="157.0" y1="200.5" x2="181.5" y2="200.5" stroke="#d81c1c" stroke-width="1"/>
<line x1="91.8" y1="186.5" x2="94.2" y2="186.5" stroke="#d81c1c" stroke-width="1"/>
<line x1="91.8" y1="211.5" x2="94.2" y2="211.5" stroke="#d81c1c" stroke-width="1"/>
<line x1="85.0" y1="186.5" x2="87.4" y2="186.5" stroke="#d81c1c" stroke-width="1"/>
<line x1="85.0" y1="211.5" x2="87.4" y2="211.5" stroke="#d81c1c" stroke-width="1"/>
<line x1="149.6" y1="186.5" x2="152.0" y2="186.5" stroke="#d81c1c" stroke-width="1"/>
<line x1="149.6" y1="211.5" x2="152.0" y2="211.5" stroke="#d81c1c" stroke-width="1"/>
<line x1="155.0" y1="186.5" x2="157.4" y2="186.5" stroke="#d81c1c" stroke-width="1"/>
<line x1="155.0" y1="211.5" x2="157.4" y2="211.5" stroke="#d81c1c" stroke-width="1"/>
<line x1="67.5" y1="214.0" x2="67.5" y2="226.0" stroke="#d81c1c" stroke-width="1.2"/>
<line x1="188.5" y1="214.0" x2="188.5" y2="226.0" stroke="#d81c1c" stroke-width="1.2"/>
<line x1="190.5" y1="216.0" x2="190.5" y2="226.0" stroke="#d81c1c" stroke-width="1"/>
<line x1="63.0" y1="220.5" x2="191.5" y2="220.5" stroke="#ffffff" stroke-width="1"/>
<line x1="63.0" y1="224.5" x2="84.0" y2="224.5" stroke="#ffffff" stroke-width="1"/>
<line x1="84.0" y1="226.9" x2="157.7" y2="226.9" stroke="#ffffff" stroke-width="2"/>
<line x1="63.5" y1="220.6" x2="63.5" y2="224.5" stroke="#ffffff" stroke-width="1"/>
<line x1="157.5" y1="220.6" x2="157.5" y2="226.5" stroke="#ffffff" stroke-width="1"/>
<line x1="84.5" y1="220.6" x2="84.5" y2="226.5" stroke="#ffffff" stroke-width="1"/>
<line x1="191.5" y1="220.6" x2="191.5" y2="226.0" stroke="#ffffff" stroke-width="1"/>
<line x1="184.0" y1="226.5" x2="191.5" y2="226.5" stroke="#ffffff" stroke-width="1"/>
<rect x="64.5" y="220.5" width="5.0" height="6.0" fill="none" stroke="#ffffff" stroke-width="0.9"/>
<polyline points="85.4,226.5 115.4,276.8" fill="none" stroke="#ffffff" stroke-width="1"/>
<polyline points="157.7,226.5 128.5,276.8" fill="none" stroke="#ffffff" stroke-width="1"/>
<line x1="115.6" y1="277.0" x2="128.2" y2="277.0" stroke="#ffffff" stroke-width="2"/>
<line x1="85.4" y1="239.6" x2="85.4" y2="250.4" stroke="#ffffff" stroke-width="1.4"/>
<polyline points="85.4,240.4 94.5,242.7" fill="none" stroke="#ffffff" stroke-width="1"/>
<polyline points="85.4,249.0 100.0,250.4" fill="none" stroke="#ffffff" stroke-width="1"/>
<line x1="83.0" y1="244.2" x2="107.7" y2="247.3" stroke="#d81c1c" stroke-width="1"/>
<line x1="157.7" y1="239.6" x2="157.7" y2="250.4" stroke="#ffffff" stroke-width="1.4"/>
<polyline points="157.7,240.4 148.5,242.7" fill="none" stroke="#ffffff" stroke-width="1"/>
<polyline points="157.7,249.0 143.0,250.4" fill="none" stroke="#ffffff" stroke-width="1"/>
<line x1="158.8" y1="244.2" x2="135.4" y2="247.3" stroke="#d81c1c" stroke-width="1"/>
<line x1="209.4" y1="113.5" x2="216.2" y2="113.5" stroke="#00ffff" stroke-width="1"/>
<line x1="216.2" y1="113.1" x2="268.6" y2="166.3" stroke="#00ffff" stroke-width="1"/>
<text x="213.0" y="112.0" font-size="4.4" fill="#00ff00" text-anchor="middle" font-weight="bold" stroke="#00ff00" stroke-width="0.35">10</text>
<line x1="185.3" y1="126.5" x2="215.0" y2="126.5" stroke="#00ffff" stroke-width="1"/>
<line x1="215.0" y1="126.4" x2="268.6" y2="171.8" stroke="#00ffff" stroke-width="1"/>
<text x="200.5" y="125.3" font-size="4.4" fill="#00ff00" text-anchor="middle" font-weight="bold" stroke="#00ff00" stroke-width="0.35">14 18 16 17</text>
<line x1="208.5" y1="148.5" x2="216.0" y2="148.5" stroke="#00ffff" stroke-width="1"/>
<line x1="216.0" y1="148.3" x2="268.6" y2="172.5" stroke="#00ffff" stroke-width="1"/>
<text x="211.8" y="147.2" font-size="4.4" fill="#00ff00" text-anchor="middle" font-weight="bold" stroke="#00ff00" stroke-width="0.35">11</text>
<text x="187.0" y="156.6" font-size="5" fill="#00ff00" text-anchor="middle" font-weight="bold" stroke="#00ff00" stroke-width="0.3">A</text>
<line x1="188.5" y1="159.5" x2="188.5" y2="165.6" stroke="#00ffff" stroke-width="1"/>
<line x1="186.0" y1="159.5" x2="188.5" y2="159.5" stroke="#00ffff" stroke-width="1"/>
<line x1="224.5" y1="87.3" x2="224.5" y2="220.4" stroke="#00ffff" stroke-width="1"/>
<line x1="224.9" y1="87.5" x2="291.3" y2="87.5" stroke="#00ffff" stroke-width="1"/>
<line x1="230.5" y1="138.6" x2="230.5" y2="220.4" stroke="#00ffff" stroke-width="1"/>
<line x1="230.4" y1="138.5" x2="266.0" y2="138.5" stroke="#00ffff" stroke-width="1"/>
<text x="252.0" y="136.0" font-size="4.5" fill="#00ff00" text-anchor="middle" font-weight="bold" stroke="#00ff00" stroke-width="0.3">h</text>
<line x1="247.5" y1="136.5" x2="255.0" y2="136.5" stroke="#00ffff" stroke-width="1"/>
<text x="225.1" y="148.2" font-size="3.6" fill="#00ff00" text-anchor="middle" font-weight="bold" stroke="#00ff00" stroke-width="0.7" transform="rotate(-90 225.1 148.2)">420</text>
<text x="230.9" y="178.7" font-size="3.6" fill="#00ff00" text-anchor="middle" font-weight="bold" stroke="#00ff00" stroke-width="0.7" transform="rotate(-90 230.9 178.7)">530</text>
<text x="235.3" y="210.2" font-size="3.6" fill="#00ff00" text-anchor="middle" font-weight="bold" stroke="#00ff00" stroke-width="0.7" transform="rotate(-90 235.3 210.2)">1200</text>
<line x1="229.3" y1="220.5" x2="237.0" y2="220.5" stroke="#00ffff" stroke-width="1"/>
<line x1="236.5" y1="201.4" x2="236.5" y2="220.4" stroke="#00ffff" stroke-width="1"/>
<line x1="236.3" y1="201.5" x2="282.0" y2="201.5" stroke="#00ffff" stroke-width="1"/>
<line x1="265.8" y1="106.5" x2="298.6" y2="106.5" stroke="#00ffff" stroke-width="1"/>
<line x1="265.5" y1="104.8" x2="265.5" y2="115.0" stroke="#00ffff" stroke-width="1"/>
<line x1="298.5" y1="102.5" x2="298.5" y2="107.5" stroke="#00ffff" stroke-width="1"/>
<text x="282.0" y="105.6" font-size="3.4" fill="#00ff00" text-anchor="middle" font-weight="bold" stroke="#00ff00" stroke-width="0.7">400</text>
<text x="260.8" y="111.6" font-size="4.4" fill="#00ff00" text-anchor="middle" font-weight="bold" stroke="#00ff00" stroke-width="0.4">o.</text>
<line x1="259.0" y1="112.5" x2="267.0" y2="112.5" stroke="#00ffff" stroke-width="1"/>
<polygon points="293.5,80.6 303.8,80.6 306.0,83.0 306.0,90.0 304.5,92.2 292.8,92.2 291.3,90.0 291.3,83.0" fill="none" stroke="#ffffff" stroke-width="1"/>
<line x1="292.3" y1="84.5" x2="305.0" y2="84.5" stroke="#ffffff" stroke-width="0.9"/>
<line x1="290.5" y1="87.5" x2="307.0" y2="87.5" stroke="#d81c1c" stroke-width="1" stroke-dasharray="2.5 1.2"/>
<rect x="292.5" y="92.5" width="4.0" height="3.0" fill="none" stroke="#ffffff" stroke-width="0.9"/>
<rect x="300.5" y="92.5" width="4.0" height="3.0" fill="none" stroke="#ffffff" stroke-width="0.9"/>
<rect x="287.5" y="92.5" width="22.0" height="19.0" fill="none" stroke="#ffffff" stroke-width="1"/>
<line x1="287.5" y1="97.5" x2="309.0" y2="97.5" stroke="#ffffff" stroke-width="1"/>
<rect x="266.5" y="111.5" width="62.0" height="6.0" fill="none" stroke="#ffffff" stroke-width="1.2"/>
<line x1="266.5" y1="117.3" x2="266.5" y2="181.5" stroke="#ffffff" stroke-width="1"/>
<line x1="268.5" y1="117.3" x2="268.5" y2="181.5" stroke="#ffffff" stroke-width="1"/>
<line x1="270.5" y1="117.3" x2="270.5" y2="181.5" stroke="#ffffff" stroke-width="1"/>
<line x1="273.5" y1="117.3" x2="273.5" y2="181.5" stroke="#ffffff" stroke-width="1"/>
<line x1="323.5" y1="117.3" x2="323.5" y2="181.5" stroke="#ffffff" stroke-width="1"/>
<line x1="325.5" y1="117.3" x2="325.5" y2="181.5" stroke="#ffffff" stroke-width="1"/>
<line x1="328.5" y1="117.3" x2="328.5" y2="181.5" stroke="#ffffff" stroke-width="1"/>
<line x1="298.5" y1="78.0" x2="298.5" y2="288.0" stroke="#d81c1c" stroke-width="1.1"/>
<line x1="280.2" y1="118.5" x2="273.7" y2="138.5" stroke="#ffffff" stroke-width="1"/>
<line x1="306.4" y1="118.2" x2="323.4" y2="127.2" stroke="#ffffff" stroke-width="0.9"/>
<line x1="309.0" y1="117.8" x2="323.4" y2="125.4" stroke="#ffffff" stroke-width="0.9"/>
<line x1="311.6" y1="117.6" x2="323.4" y2="123.8" stroke="#ffffff" stroke-width="0.9"/>
<path d="M292.4,119 L292.4,127 Q292.6,130.2 298.5,131.3 Q304.2,130.2 304.3,127 L304.3,119" fill="none" stroke="#ffffff" stroke-width="1"/>
<line x1="291.0" y1="119.5" x2="306.0" y2="119.5" stroke="#ffffff" stroke-width="1.2"/>
<line x1="284.7" y1="118.2" x2="292.0" y2="123.4" stroke="#ffffff" stroke-width="0.9"/>
<line x1="293.0" y1="119.0" x2="293.0" y2="121.0" stroke="#d81c1c" stroke-width="1.4"/>
<line x1="304.6" y1="119.0" x2="304.6" y2="121.0" stroke="#d81c1c" stroke-width="1.4"/>
<line x1="285.5" y1="125.5" x2="288.7" y2="125.5" stroke="#ffffff" stroke-width="0.9"/>
<line x1="286.3" y1="124.3" x2="287.9" y2="127.1" stroke="#ffffff" stroke-width="0.9"/>
<line x1="287.9" y1="124.3" x2="286.3" y2="127.1" stroke="#d81c1c" stroke-width="0.9"/>
<path d="M266,138.5 L274.5,139.2 Q290,144 296.5,160.7" fill="none" stroke="#d81c1c" stroke-width="1"/>
<line x1="273.7" y1="162.0" x2="305.5" y2="131.6" stroke="#ffffff" stroke-width="1"/>
<line x1="305.5" y1="131.6" x2="309.5" y2="138.0" stroke="#ffffff" stroke-width="1"/>
<polygon points="297.2,142.7 308.3,137.2 316.0,150.3 304.8,156.5" fill="none" stroke="#ffffff" stroke-width="1"/>
<polygon points="298.9,143.5 307.7,139.0 314.2,149.8 305.4,154.8" fill="none" stroke="#ff00ff" stroke-width="1.2"/>
<line x1="275.8" y1="167.6" x2="318.7" y2="156.5" stroke="#ffffff" stroke-width="1"/>
<line x1="318.7" y1="156.5" x2="319.5" y2="152.0" stroke="#ffffff" stroke-width="1"/>
<line x1="319.0" y1="151.5" x2="320.5" y2="151.0" stroke="#d81c1c" stroke-width="1.2"/>
<rect x="293.5" y="160.5" width="10.0" height="21.0" fill="none" stroke="#ffffff" stroke-width="1"/>
<line x1="275.8" y1="169.5" x2="323.8" y2="169.5" stroke="#ffffff" stroke-width="1"/>
<line x1="275.8" y1="173.5" x2="323.8" y2="173.5" stroke="#ffffff" stroke-width="0.7"/>
<rect x="267.5" y="174.5" width="6.0" height="7.0" fill="none" stroke="#ffffff" stroke-width="0.9"/>
<rect x="322.5" y="174.5" width="6.0" height="7.0" fill="none" stroke="#ffffff" stroke-width="0.9"/>
<line x1="268.2" y1="165.0" x2="268.2" y2="168.0" stroke="#d81c1c" stroke-width="1.6"/>
<line x1="274.4" y1="166.6" x2="274.4" y2="169.0" stroke="#d81c1c" stroke-width="1.6"/>
<line x1="291.0" y1="178.5" x2="304.0" y2="178.5" stroke="#ffffff" stroke-width="0.9"/>
<polygon points="241.2,182.4 345.2,182.4 351.0,220.2 237.4,220.2" fill="none" stroke="#ffffff" stroke-width="1"/>
<line x1="245.5" y1="182.4" x2="245.5" y2="220.2" stroke="#ffffff" stroke-width="0.9"/>
<line x1="267.5" y1="176.0" x2="267.5" y2="224.0" stroke="#ffffff" stroke-width="0.9"/>
<line x1="275.5" y1="176.0" x2="275.5" y2="224.0" stroke="#ffffff" stroke-width="0.9"/>
<line x1="321.5" y1="176.0" x2="321.5" y2="224.0" stroke="#ffffff" stroke-width="0.9"/>
<line x1="329.5" y1="176.0" x2="329.5" y2="224.0" stroke="#ffffff" stroke-width="0.9"/>
<line x1="336.5" y1="176.0" x2="336.5" y2="224.0" stroke="#ffffff" stroke-width="0.9"/>
<line x1="342.5" y1="176.0" x2="342.5" y2="224.0" stroke="#ffffff" stroke-width="0.9"/>
<line x1="271.5" y1="176.0" x2="271.5" y2="226.0" stroke="#d81c1c" stroke-width="1"/>
<line x1="325.5" y1="176.0" x2="325.5" y2="226.0" stroke="#d81c1c" stroke-width="1"/>
<line x1="237.0" y1="225.5" x2="351.0" y2="225.5" stroke="#ffffff" stroke-width="0.8"/>
<line x1="237.5" y1="220.4" x2="237.5" y2="225.2" stroke="#ffffff" stroke-width="1"/>
<line x1="351.5" y1="220.4" x2="351.5" y2="225.2" stroke="#ffffff" stroke-width="1"/>
<rect x="238.5" y="220.5" width="6.0" height="5.0" fill="none" stroke="#ffffff" stroke-width="0.8"/>
<rect x="344.5" y="220.5" width="6.0" height="5.0" fill="none" stroke="#ffffff" stroke-width="0.8"/>
<line x1="240.5" y1="221.0" x2="240.5" y2="225.0" stroke="#d81c1c" stroke-width="1"/>
<line x1="242.5" y1="221.0" x2="242.5" y2="225.0" stroke="#d81c1c" stroke-width="1"/>
<line x1="346.5" y1="221.0" x2="346.5" y2="225.0" stroke="#d81c1c" stroke-width="1"/>
<line x1="348.5" y1="221.0" x2="348.5" y2="225.0" stroke="#d81c1c" stroke-width="1"/>
<rect x="281.6" y="190.2" width="16.4" height="22.1" fill="none" stroke="#e61464" stroke-width="1.8"/>
<rect x="283.5" y="192.5" width="13.0" height="18.0" fill="none" stroke="#ffffff" stroke-width="0.6"/>
<line x1="283.0" y1="201.5" x2="297.0" y2="201.5" stroke="#d81c1c" stroke-width="1"/>
<line x1="290.5" y1="193.0" x2="290.5" y2="210.0" stroke="#d81c1c" stroke-width="1"/>
<line x1="261.5" y1="225.2" x2="261.5" y2="227.6" stroke="#ffffff" stroke-width="1"/>
<line x1="335.5" y1="225.2" x2="335.5" y2="227.6" stroke="#ffffff" stroke-width="1"/>
<line x1="261.0" y1="227.5" x2="335.5" y2="227.5" stroke="#ffffff" stroke-width="1"/>
<polyline points="263.4,227.6 291.8,275.9" fill="none" stroke="#ffffff" stroke-width="1"/>
<polyline points="333.0,227.6 304.3,275.9" fill="none" stroke="#ffffff" stroke-width="1"/>
<line x1="291.8" y1="276.6" x2="304.6" y2="276.6" stroke="#ffffff" stroke-width="1.6"/>
<text x="432.0" y="100.2" font-size="4.5" fill="#00ff00" text-anchor="middle" font-weight="bold" stroke="#00ff00" stroke-width="0.2">E</text>
<rect x="416.5" y="116.5" width="29.0" height="42.0" fill="none" stroke="#ffffff" stroke-width="1"/>
<rect x="417.5" y="117.5" width="27.0" height="40.0" fill="none" stroke="#d81c1c" stroke-width="0.7"/>
<rect x="418.5" y="118.5" width="25.0" height="38.0" fill="none" stroke="#ffffff" stroke-width="1"/>
<line x1="431.5" y1="115.2" x2="431.5" y2="159.6" stroke="#d81c1c" stroke-width="1.1"/>
<line x1="417.5" y1="137.5" x2="446.4" y2="137.5" stroke="#d81c1c" stroke-width="1.1"/>
<line x1="418.4" y1="113.5" x2="443.6" y2="113.5" stroke="#00ffff" stroke-width="1"/>
<line x1="418.5" y1="111.0" x2="418.5" y2="116.0" stroke="#00ffff" stroke-width="1"/>
<line x1="443.5" y1="111.0" x2="443.5" y2="116.0" stroke="#00ffff" stroke-width="1"/>
<text x="430.5" y="112.6" font-size="3.4" fill="#00ff00" text-anchor="middle" font-weight="bold" stroke="#00ff00" stroke-width="0.7">360</text>
<text x="408.5" y="112.3" font-size="3.6" fill="#00ff00" text-anchor="middle" font-weight="bold" stroke="#00ff00" stroke-width="0.6">4-ø12</text>
<line x1="403.0" y1="112.5" x2="414.5" y2="112.5" stroke="#00ffff" stroke-width="1"/>
<line x1="414.5" y1="112.9" x2="417.5" y2="117.0" stroke="#00ffff" stroke-width="1"/>
<line x1="413.5" y1="118.5" x2="413.5" y2="156.3" stroke="#00ffff" stroke-width="1"/>
<line x1="412.0" y1="118.5" x2="418.8" y2="118.5" stroke="#00ffff" stroke-width="1"/>
<line x1="412.0" y1="156.5" x2="418.8" y2="156.5" stroke="#00ffff" stroke-width="1"/>
<text x="411.2" y="137.5" font-size="3.4" fill="#00ff00" text-anchor="middle" font-weight="bold" stroke="#00ff00" stroke-width="0.7" transform="rotate(-90 411.2 137.5)">600</text>
<line x1="454.5" y1="116.7" x2="454.5" y2="158.5" stroke="#00ffff" stroke-width="1"/>
<line x1="459.5" y1="116.7" x2="459.5" y2="158.5" stroke="#00ffff" stroke-width="1"/>
<line x1="445.1" y1="116.5" x2="460.0" y2="116.5" stroke="#00ffff" stroke-width="1"/>
<line x1="445.1" y1="158.5" x2="460.0" y2="158.5" stroke="#00ffff" stroke-width="1"/>
<text x="453.2" y="137.0" font-size="3.6" fill="#00ff00" text-anchor="middle" font-weight="bold" stroke="#00ff00" stroke-width="0.7" transform="rotate(-90 453.2 137.0)">4x150=600</text>
<text x="457.8" y="137.0" font-size="3.4" fill="#00ff00" text-anchor="middle" font-weight="bold" stroke="#00ff00" stroke-width="0.7" transform="rotate(-90 457.8 137.0)">660</text>
<line x1="449.5" y1="151.5" x2="449.5" y2="162.0" stroke="#00ffff" stroke-width="1"/>
<text x="446.6" y="154.6" font-size="3.4" fill="#00ff00" text-anchor="middle" font-weight="bold" stroke="#00ff00" stroke-width="0.7">30</text>
<line x1="414.8" y1="161.5" x2="447.2" y2="161.5" stroke="#00ffff" stroke-width="1"/>
<line x1="416.6" y1="165.5" x2="438.2" y2="165.5" stroke="#00ffff" stroke-width="1"/>
<line x1="416.6" y1="169.5" x2="445.1" y2="169.5" stroke="#00ffff" stroke-width="1"/>
<line x1="416.5" y1="158.5" x2="416.5" y2="170.8" stroke="#00ffff" stroke-width="1"/>
<line x1="445.5" y1="158.5" x2="445.5" y2="170.8" stroke="#00ffff" stroke-width="1"/>
<line x1="419.5" y1="158.5" x2="419.5" y2="162.5" stroke="#00ffff" stroke-width="1"/>
<text x="411.2" y="161.4" font-size="3.4" fill="#00ff00" text-anchor="middle" font-weight="bold" stroke="#00ff00" stroke-width="0.7">30</text>
<text x="431.0" y="164.6" font-size="3.6" fill="#00ff00" text-anchor="middle" font-weight="bold" stroke="#00ff00" stroke-width="0.7">3x120=360</text>
<text x="431.0" y="169.2" font-size="3.4" fill="#00ff00" text-anchor="middle" font-weight="bold" stroke="#00ff00" stroke-width="0.7">420</text>
<text x="450.3" y="162.7" font-size="3.6" fill="#00ff00" text-anchor="middle" font-weight="bold" stroke="#00ff00" stroke-width="0.7" transform="rotate(-90 450.3 162.7)">860</text>
<text x="506.5" y="99.2" font-size="4.5" fill="#00ff00" text-anchor="middle" font-weight="bold" stroke="#00ff00" stroke-width="0.2">F</text>
<rect x="500.5" y="116.5" width="12.0" height="42.0" fill="none" stroke="#ffffff" stroke-width="1"/>
<rect x="501.5" y="117.5" width="10.0" height="40.0" fill="none" stroke="#d81c1c" stroke-width="0.7"/>
<rect x="502.5" y="118.5" width="8.0" height="38.0" fill="none" stroke="#ffffff" stroke-width="1"/>
<line x1="506.5" y1="117.5" x2="506.5" y2="159.0" stroke="#d81c1c" stroke-width="1.1"/>
<line x1="499.3" y1="137.5" x2="513.7" y2="137.5" stroke="#d81c1c" stroke-width="1.1"/>
<line x1="495.5" y1="118.3" x2="495.5" y2="156.3" stroke="#00ffff" stroke-width="1"/>
<line x1="494.3" y1="118.5" x2="502.0" y2="118.5" stroke="#00ffff" stroke-width="1"/>
<line x1="494.3" y1="156.5" x2="502.0" y2="156.5" stroke="#00ffff" stroke-width="1"/>
<text x="493.6" y="137.5" font-size="3.4" fill="#00ff00" text-anchor="middle" font-weight="bold" stroke="#00ff00" stroke-width="0.7" transform="rotate(-90 493.6 137.5)">600</text>
<line x1="501.7" y1="113.5" x2="512.0" y2="113.5" stroke="#00ffff" stroke-width="1"/>
<line x1="501.5" y1="111.5" x2="501.5" y2="116.0" stroke="#00ffff" stroke-width="1"/>
<line x1="512.5" y1="111.5" x2="512.5" y2="116.0" stroke="#00ffff" stroke-width="1"/>
<text x="506.9" y="112.6" font-size="3.2" fill="#00ff00" text-anchor="middle" font-weight="bold" stroke="#00ff00" stroke-width="0.7">120</text>
<text x="493.4" y="112.8" font-size="3.6" fill="#00ff00" text-anchor="middle" font-weight="bold" stroke="#00ff00" stroke-width="0.6">4-ø12</text>
<line x1="488.5" y1="113.5" x2="498.4" y2="113.5" stroke="#00ffff" stroke-width="1"/>
<line x1="498.4" y1="113.4" x2="501.0" y2="117.0" stroke="#00ffff" stroke-width="1"/>
<line x1="519.5" y1="116.7" x2="519.5" y2="158.1" stroke="#00ffff" stroke-width="1"/>
<line x1="524.5" y1="116.7" x2="524.5" y2="158.1" stroke="#00ffff" stroke-width="1"/>
<line x1="512.8" y1="116.5" x2="525.0" y2="116.5" stroke="#00ffff" stroke-width="1"/>
<line x1="512.8" y1="158.5" x2="525.0" y2="158.5" stroke="#00ffff" stroke-width="1"/>
<text x="517.8" y="137.5" font-size="3.6" fill="#00ff00" text-anchor="middle" font-weight="bold" stroke="#00ff00" stroke-width="0.7" transform="rotate(-90 517.8 137.5)">4x150=600</text>
<text x="522.8" y="139.5" font-size="3.4" fill="#00ff00" text-anchor="middle" font-weight="bold" stroke="#00ff00" stroke-width="0.7" transform="rotate(-90 522.8 139.5)">660</text>
<line x1="514.5" y1="152.0" x2="514.5" y2="161.5" stroke="#00ffff" stroke-width="1"/>
<text x="512.8" y="155.0" font-size="3.4" fill="#00ff00" text-anchor="middle" font-weight="bold" stroke="#00ff00" stroke-width="0.7">30</text>
<line x1="498.4" y1="161.5" x2="516.4" y2="161.5" stroke="#00ffff" stroke-width="1"/>
<line x1="494.0" y1="165.5" x2="513.7" y2="165.5" stroke="#00ffff" stroke-width="1"/>
<line x1="500.8" y1="172.5" x2="512.8" y2="172.5" stroke="#00ffff" stroke-width="1"/>
<line x1="500.5" y1="158.1" x2="500.5" y2="174.0" stroke="#00ffff" stroke-width="1"/>
<line x1="512.5" y1="158.1" x2="512.5" y2="174.0" stroke="#00ffff" stroke-width="1"/>
<text x="494.8" y="161.0" font-size="3.4" fill="#00ff00" text-anchor="middle" font-weight="bold" stroke="#00ff00" stroke-width="0.7">30</text>
<text x="494.8" y="167.2" font-size="3.4" fill="#00ff00" text-anchor="middle" font-weight="bold" stroke="#00ff00" stroke-width="0.7">30</text>
<text x="506.9" y="170.0" font-size="3.4" fill="#00ff00" text-anchor="middle" font-weight="bold" stroke="#00ff00" stroke-width="0.7">180</text>
<text x="522.0" y="166.8" font-size="3.6" fill="#00ff00" text-anchor="middle" font-weight="bold" stroke="#00ff00" stroke-width="0.7">2x120=240</text>
<text x="571.8" y="97.6" font-size="4.5" fill="#00ff00" text-anchor="middle" font-weight="bold" stroke="#00ff00" stroke-width="0.3">G</text>
<line x1="568.3" y1="98.5" x2="575.2" y2="98.5" stroke="#00ff00" stroke-width="0.8"/>
<text x="571.8" y="101.8" font-size="3.2" fill="#00ff00" text-anchor="middle" font-weight="bold" stroke="#00ff00" stroke-width="0.5">1:5</text>
<rect x="561.5" y="121.5" width="21.0" height="23.0" fill="none" stroke="#ffffff" stroke-width="1"/>
<rect x="565.0" y="123.4" width="15.5" height="18.4" fill="none" stroke="#ffffff" stroke-width="1.6"/>
<line x1="562.0" y1="121.5" x2="582.4" y2="121.5" stroke="#d81c1c" stroke-width="1"/>
<line x1="562.5" y1="123.0" x2="562.5" y2="142.0" stroke="#d81c1c" stroke-width="1"/>
<line x1="582.5" y1="123.0" x2="582.5" y2="142.0" stroke="#d81c1c" stroke-width="1"/>
<line x1="572.5" y1="125.0" x2="572.5" y2="141.0" stroke="#d81c1c" stroke-width="1" stroke-dasharray="2.5 1"/>
<line x1="569.0" y1="132.5" x2="577.0" y2="132.5" stroke="#d81c1c" stroke-width="1"/>
<line x1="565.0" y1="117.5" x2="580.2" y2="117.5" stroke="#00ffff" stroke-width="1"/>
<line x1="565.5" y1="116.0" x2="565.5" y2="122.0" stroke="#00ffff" stroke-width="1"/>
<line x1="580.5" y1="116.0" x2="580.5" y2="122.0" stroke="#00ffff" stroke-width="1"/>
<text x="572.5" y="116.3" font-size="3.4" fill="#00ff00" text-anchor="middle" font-weight="bold" stroke="#00ff00" stroke-width="0.7">200</text>
<text x="591.7" y="114.8" font-size="3.6" fill="#00ff00" text-anchor="middle" font-weight="bold" stroke="#00ff00" stroke-width="0.6">4-ø12</text>
<line x1="586.9" y1="115.5" x2="596.0" y2="115.5" stroke="#00ffff" stroke-width="1"/>
<line x1="586.9" y1="115.0" x2="583.1" y2="119.4" stroke="#00ffff" stroke-width="1"/>
<line x1="558.5" y1="123.4" x2="558.5" y2="141.8" stroke="#00ffff" stroke-width="1"/>
<line x1="557.6" y1="123.5" x2="565.0" y2="123.5" stroke="#00ffff" stroke-width="1"/>
<line x1="557.6" y1="141.5" x2="565.0" y2="141.5" stroke="#00ffff" stroke-width="1"/>
<text x="557.7" y="132.5" font-size="3.6" fill="#00ff00" text-anchor="middle" font-weight="bold" stroke="#00ff00" stroke-width="0.7" transform="rotate(-90 557.7 132.5)">640</text>
<line x1="588.5" y1="121.0" x2="588.5" y2="145.8" stroke="#00ffff" stroke-width="1"/>
<line x1="592.5" y1="121.0" x2="592.5" y2="145.8" stroke="#00ffff" stroke-width="1"/>
<line x1="582.6" y1="121.5" x2="593.5" y2="121.5" stroke="#00ffff" stroke-width="1"/>
<line x1="582.6" y1="145.5" x2="593.5" y2="145.5" stroke="#00ffff" stroke-width="1"/>
<text x="585.6" y="133.0" font-size="3.2" fill="#00ff00" text-anchor="middle" font-weight="bold" stroke="#00ff00" stroke-width="0.7" transform="rotate(-90 585.6 133.0)">220</text>
<text x="592.1" y="132.6" font-size="3.6" fill="#00ff00" text-anchor="middle" font-weight="bold" stroke="#00ff00" stroke-width="0.7" transform="rotate(-90 592.1 132.6)">2450</text>
<line x1="561.8" y1="146.5" x2="583.4" y2="146.5" stroke="#00ffff" stroke-width="1"/>
<line x1="562.3" y1="154.5" x2="582.6" y2="154.5" stroke="#00ffff" stroke-width="1"/>
<line x1="562.5" y1="144.2" x2="562.5" y2="155.5" stroke="#00ffff" stroke-width="1"/>
<line x1="582.5" y1="144.2" x2="582.5" y2="155.5" stroke="#00ffff" stroke-width="1"/>
<text x="572.5" y="150.0" font-size="3.6" fill="#00ff00" text-anchor="middle" font-weight="bold" stroke="#00ff00" stroke-width="0.7">2x100=200</text>
<text x="572.5" y="153.6" font-size="3.2" fill="#00ff00" text-anchor="middle" font-weight="bold" stroke="#00ff00" stroke-width="0.7">260</text>
<text x="433.7" y="195.2" font-size="4" fill="#00ff00" text-anchor="middle" font-weight="bold" stroke="#00ff00" stroke-width="0.4">C</text>
<line x1="430.8" y1="196.5" x2="436.8" y2="196.5" stroke="#00ff00" stroke-width="0.8"/>
<text x="433.8" y="199.6" font-size="3.4" fill="#00ff00" text-anchor="middle" font-weight="bold" stroke="#00ff00" stroke-width="0.6">1:5</text>
<circle cx="432.5" cy="229.0" r="14.8" fill="none" stroke="#ffffff" stroke-width="1"/>
<circle cx="432.5" cy="229.0" r="12.6" fill="none" stroke="#d81c1c" stroke-width="1"/>
<circle cx="432.5" cy="229.0" r="10.4" fill="none" stroke="#ffffff" stroke-width="1"/>
<line x1="432.5" y1="210.8" x2="432.5" y2="246.2" stroke="#d81c1c" stroke-width="1.1"/>
<line x1="417.5" y1="229.5" x2="448.8" y2="229.5" stroke="#d81c1c" stroke-width="1.1"/>
<line x1="436.1" y1="219.4" x2="447.8" y2="212.4" stroke="#00ffff" stroke-width="1"/>
<line x1="447.8" y1="212.5" x2="460.0" y2="212.5" stroke="#00ffff" stroke-width="1"/>
<line x1="422.2" y1="232.9" x2="446.0" y2="223.9" stroke="#00ffff" stroke-width="1"/>
<line x1="432.5" y1="229.0" x2="446.0" y2="236.2" stroke="#00ffff" stroke-width="1"/>
<line x1="446.0" y1="236.5" x2="455.0" y2="236.5" stroke="#00ffff" stroke-width="1"/>
<line x1="423.5" y1="224.3" x2="431.6" y2="228.8" stroke="#00ffff" stroke-width="1"/>
<text x="454.2" y="211.6" font-size="3.8" fill="#00ff00" text-anchor="middle" font-weight="bold" stroke="#00ff00" stroke-width="0.7">8-ø14</text>
<text x="449.6" y="222.4" font-size="3.6" fill="#00ff00" text-anchor="middle" font-weight="bold" stroke="#00ff00" stroke-width="0.6" transform="rotate(-25 449.6 222.4)">ø240</text>
<text x="452.0" y="235.8" font-size="3.4" fill="#00ff00" text-anchor="middle" font-weight="bold" stroke="#00ff00" stroke-width="0.7">ø280</text>
<text x="428.3" y="225.2" font-size="3.6" fill="#00ff00" text-anchor="middle" font-weight="bold" stroke="#00ff00" stroke-width="0.7" transform="rotate(35 428.3 225.2)">45°</text>
<text x="431.0" y="273.8" font-size="4.5" fill="#00ff00" text-anchor="middle" font-weight="bold" stroke="#00ff00" stroke-width="0.5">I</text>
<circle cx="431.0" cy="306.4" r="22.9" fill="none" stroke="#ffffff" stroke-width="1"/>
<circle cx="431.0" cy="306.4" r="21.2" fill="none" stroke="#ffffff" stroke-width="1"/>
<circle cx="431.0" cy="306.4" r="22.1" fill="none" stroke="#d81c1c" stroke-width="0.8"/>
<line x1="431.5" y1="282.0" x2="431.5" y2="330.4" stroke="#d81c1c" stroke-width="1.1"/>
<line x1="410.0" y1="306.5" x2="456.7" y2="306.5" stroke="#d81c1c" stroke-width="1.1" stroke-dasharray="8 1.5 2 1.5"/>
<line x1="431.0" y1="306.4" x2="443.5" y2="290.1" stroke="#00ffff" stroke-width="1"/>
<line x1="431.0" y1="306.4" x2="450.4" y2="302.0" stroke="#00ffff" stroke-width="1"/>
<line x1="431.0" y1="306.4" x2="407.6" y2="304.6" stroke="#00ffff" stroke-width="1"/>
<line x1="431.0" y1="306.4" x2="412.6" y2="315.3" stroke="#00ffff" stroke-width="1"/>
<line x1="431.0" y1="306.4" x2="418.3" y2="321.0" stroke="#00ffff" stroke-width="1"/>
<text x="401.5" y="301.6" font-size="3.6" fill="#00ff00" text-anchor="middle" font-weight="bold" stroke="#00ff00" stroke-width="0.7">12-ø18</text>
<text x="402.5" y="305.6" font-size="3.4" fill="#00ff00" text-anchor="middle" font-weight="bold" stroke="#00ff00" stroke-width="0.6">EQS</text>
<line x1="396.0" y1="302.5" x2="407.6" y2="302.5" stroke="#00ffff" stroke-width="0.8"/>
<text x="439.4" y="294.5" font-size="3.6" fill="#00ff00" text-anchor="middle" font-weight="bold" stroke="#00ff00" stroke-width="0.8" transform="rotate(-50 439.4 294.5)">30°</text>
<text x="442.0" y="300.8" font-size="3.6" fill="#00ff00" text-anchor="middle" font-weight="bold" stroke="#00ff00" stroke-width="0.8" transform="rotate(-25 442.0 300.8)">30°</text>
<text x="472.2" y="394.3" font-size="4.6" fill="#00ff00" font-weight="bold" stroke="#00ff00" stroke-width="0.4" textLength="8.7" lengthAdjust="spacingAndGlyphs">技术要求</text>
<text x="465.2" y="399" font-size="4.6" fill="#00ff00" font-weight="bold" stroke="#00ff00" stroke-width="0.4" textLength="15.7" lengthAdjust="spacingAndGlyphs">1.焊缝应符合标准</text>
<text x="465.2" y="402.6" font-size="3.6" fill="#00ff00" font-weight="bold" stroke="#00ff00" stroke-width="0.4" textLength="18.8" lengthAdjust="spacingAndGlyphs">2.装配后应转动灵活</text>
<line x1="61.5" y1="373.5" x2="204.0" y2="373.5" stroke="#d81c1c" stroke-width="1.1" stroke-dasharray="9 1.5 2 1.5"/>
<line x1="121.5" y1="313.0" x2="121.5" y2="430.0" stroke="#d81c1c" stroke-width="1.1" stroke-dasharray="9 1.5 2 1.5"/>
<circle cx="121.5" cy="373.5" r="22.5" fill="none" stroke="#ffffff" stroke-width="1.2"/>
<circle cx="121.5" cy="373.5" r="21.3" fill="none" stroke="#d81c1c" stroke-width="0.8"/>
<circle cx="121.5" cy="373.5" r="20.0" fill="none" stroke="#ffffff" stroke-width="1.2"/>
<circle cx="121.5" cy="373.5" r="3.8" fill="none" stroke="#ffffff" stroke-width="1.5"/>
<circle cx="121.5" cy="373.5" r="1.8" fill="none" stroke="#d81c1c" stroke-width="1.2"/>
<line x1="121.5" y1="369.9" x2="121.5" y2="353.9" stroke="#ffffff" stroke-width="2.4"/>
<line x1="124.6" y1="375.3" x2="138.5" y2="383.3" stroke="#ffffff" stroke-width="2.4"/>
<line x1="118.4" y1="375.3" x2="104.5" y2="383.3" stroke="#ffffff" stroke-width="2.4"/>
<polyline points="73.5,341.3 73.5,335.3 93.7,335.3 99.0,330.8 104.5,327.5 111.0,324.8 121.5,321.5 125.3,320.6 125.3,313.2 135.8,313.2 135.8,320.3 139.5,322.5 150.0,326.3 159.8,330.8 170.3,341.3 190.5,341.3" fill="none" stroke="#ffffff" stroke-width="1"/>
<polyline points="73.5,341.3 63.0,341.3 63.0,351.8 73.5,351.8 73.5,395.5 63.0,395.5 63.0,405.3 69.8,405.3" fill="none" stroke="#ffffff" stroke-width="1"/>
<polyline points="190.5,341.3 191.7,341.3 191.7,351.8 181.5,351.8 181.5,395.5 191.7,395.5 191.7,405.3 181.5,405.3 181.5,411.3 144.0,411.3 139.5,413.5 129.0,418.0 121.5,419.5" fill="none" stroke="#ffffff" stroke-width="1"/>
<polyline points="69.8,405.3 86.3,405.3 94.5,411.3 105.0,416.5 111.0,418.0 111.0,422.5 112.5,422.5 112.5,426.3 120.0,426.3 120.0,419.8" fill="none" stroke="#ffffff" stroke-width="1"/>
<line x1="63.0" y1="343.5" x2="191.7" y2="343.5" stroke="#ffffff" stroke-width="1"/>
<line x1="63.0" y1="349.5" x2="191.7" y2="349.5" stroke="#ffffff" stroke-width="1"/>
<line x1="64.0" y1="346.5" x2="191.0" y2="346.5" stroke="#d81c1c" stroke-width="1" stroke-dasharray="8 1.5 2 1.5"/>
<line x1="70.0" y1="345.5" x2="185.0" y2="345.5" stroke="#d81c1c" stroke-width="0.5"/>
<line x1="70.0" y1="348.5" x2="185.0" y2="348.5" stroke="#d81c1c" stroke-width="0.5"/>
<rect x="63.5" y="343.5" width="6.0" height="6.0" fill="none" stroke="#ffffff" stroke-width="0.9"/>
<rect x="185.5" y="343.5" width="6.0" height="6.0" fill="none" stroke="#ffffff" stroke-width="0.9"/>
<line x1="66.5" y1="343.0" x2="66.5" y2="350.0" stroke="#d81c1c" stroke-width="1.4"/>
<line x1="188.5" y1="343.0" x2="188.5" y2="350.0" stroke="#d81c1c" stroke-width="1.4"/>
<line x1="93.5" y1="342.0" x2="93.5" y2="351.0" stroke="#d81c1c" stroke-width="1"/>
<line x1="96.5" y1="342.0" x2="96.5" y2="351.0" stroke="#d81c1c" stroke-width="1"/>
<line x1="148.5" y1="342.0" x2="148.5" y2="351.0" stroke="#d81c1c" stroke-width="1"/>
<line x1="151.5" y1="342.0" x2="151.5" y2="351.0" stroke="#d81c1c" stroke-width="1"/>
<line x1="63.0" y1="397.5" x2="191.7" y2="397.5" stroke="#ffffff" stroke-width="1"/>
<line x1="63.0" y1="403.5" x2="191.7" y2="403.5" stroke="#ffffff" stroke-width="1"/>
<line x1="64.0" y1="400.5" x2="191.0" y2="400.5" stroke="#d81c1c" stroke-width="1" stroke-dasharray="8 1.5 2 1.5"/>
<line x1="70.0" y1="399.5" x2="185.0" y2="399.5" stroke="#d81c1c" stroke-width="0.5"/>
<line x1="70.0" y1="402.5" x2="185.0" y2="402.5" stroke="#d81c1c" stroke-width="0.5"/>
<rect x="63.5" y="397.5" width="6.0" height="6.0" fill="none" stroke="#ffffff" stroke-width="0.9"/>
<rect x="185.5" y="397.5" width="6.0" height="6.0" fill="none" stroke="#ffffff" stroke-width="0.9"/>
<line x1="66.5" y1="397.0" x2="66.5" y2="404.0" stroke="#d81c1c" stroke-width="1.4"/>
<line x1="188.5" y1="397.0" x2="188.5" y2="404.0" stroke="#d81c1c" stroke-width="1.4"/>
<line x1="93.5" y1="396.0" x2="93.5" y2="405.0" stroke="#d81c1c" stroke-width="1"/>
<line x1="96.5" y1="396.0" x2="96.5" y2="405.0" stroke="#d81c1c" stroke-width="1"/>
<line x1="148.5" y1="396.0" x2="148.5" y2="405.0" stroke="#d81c1c" stroke-width="1"/>
<line x1="151.5" y1="396.0" x2="151.5" y2="405.0" stroke="#d81c1c" stroke-width="1"/>
<line x1="127.0" y1="316.5" x2="134.5" y2="316.5" stroke="#d81c1c" stroke-width="1"/>
<line x1="130.5" y1="314.0" x2="130.5" y2="320.0" stroke="#d81c1c" stroke-width="1"/>
<line x1="114.0" y1="424.5" x2="119.0" y2="424.5" stroke="#d81c1c" stroke-width="0.8"/>
<line x1="116.5" y1="421.0" x2="116.5" y2="427.0" stroke="#d81c1c" stroke-width="1"/>
<rect x="79.5" y="367.5" width="16.0" height="13.0" fill="none" stroke="#ffffff" stroke-width="1"/>
<rect x="81.5" y="368.5" width="6.0" height="11.0" fill="none" stroke="#ffffff" stroke-width="0.8"/>
<rect x="88.5" y="368.5" width="5.0" height="11.0" fill="none" stroke="#ffffff" stroke-width="0.8"/>
<line x1="81.5" y1="368.5" x2="81.5" y2="379.0" stroke="#d81c1c" stroke-width="1"/>
<line x1="87.5" y1="368.5" x2="87.5" y2="379.0" stroke="#d81c1c" stroke-width="1"/>
<rect x="150.5" y="367.5" width="13.0" height="13.0" fill="none" stroke="#ffffff" stroke-width="1"/>
<rect x="153.5" y="368.5" width="5.0" height="11.0" fill="none" stroke="#ffffff" stroke-width="0.8"/>
<rect x="159.5" y="368.5" width="2.0" height="11.0" fill="none" stroke="#ffffff" stroke-width="0.8"/>
<line x1="153.5" y1="368.5" x2="153.5" y2="379.0" stroke="#d81c1c" stroke-width="1"/>
<line x1="158.5" y1="368.5" x2="158.5" y2="379.0" stroke="#d81c1c" stroke-width="1"/>
<line x1="76.8" y1="336.5" x2="79.8" y2="336.5" stroke="#d81c1c" stroke-width="1"/>
<line x1="109.5" y1="325.5" x2="112.5" y2="325.5" stroke="#d81c1c" stroke-width="1"/>
<line x1="120.5" y1="321.5" x2="123.5" y2="321.5" stroke="#d81c1c" stroke-width="1"/>
<line x1="72.0" y1="361.5" x2="75.0" y2="361.5" stroke="#d81c1c" stroke-width="1"/>
<line x1="180.0" y1="385.5" x2="183.0" y2="385.5" stroke="#d81c1c" stroke-width="1"/>
<line x1="167.0" y1="409.5" x2="170.0" y2="409.5" stroke="#d81c1c" stroke-width="1"/>
<line x1="168.5" y1="408.0" x2="168.5" y2="413.5" stroke="#d81c1c" stroke-width="1.1"/>
<line x1="78.3" y1="315.5" x2="203.3" y2="315.5" stroke="#00ffff" stroke-width="1"/>
<line x1="78.5" y1="315.0" x2="78.5" y2="335.0" stroke="#00ffff" stroke-width="1"/>
<line x1="203.5" y1="315.6" x2="203.5" y2="422.5" stroke="#00ffff" stroke-width="1"/>
<text x="99.8" y="315.2" font-size="3.6" fill="#00ff00" text-anchor="middle" font-weight="bold" stroke="#00ff00" stroke-width="0.7">460</text>
<line x1="121.5" y1="309.5" x2="131.0" y2="309.5" stroke="#00ffff" stroke-width="1"/>
<line x1="121.5" y1="308.0" x2="121.5" y2="320.0" stroke="#00ffff" stroke-width="1"/>
<line x1="130.5" y1="308.0" x2="130.5" y2="313.0" stroke="#00ffff" stroke-width="1"/>
<text x="125.5" y="308.2" font-size="3.2" fill="#00ff00" text-anchor="middle" font-weight="bold" stroke="#00ff00" stroke-width="0.7">100</text>
<text x="73.6" y="329.5" font-size="4.6" fill="#00ff00" text-anchor="middle" font-weight="bold" stroke="#00ff00" stroke-width="0.3">F</text>
<line x1="77.5" y1="325.5" x2="77.5" y2="331.0" stroke="#00ffff" stroke-width="1"/>
<line x1="57.5" y1="335.3" x2="57.5" y2="373.5" stroke="#00ffff" stroke-width="1"/>
<line x1="56.0" y1="335.5" x2="73.5" y2="335.5" stroke="#00ffff" stroke-width="1"/>
<line x1="62.5" y1="346.5" x2="62.5" y2="400.0" stroke="#00ffff" stroke-width="1"/>
<line x1="56.0" y1="373.5" x2="63.0" y2="373.5" stroke="#00ffff" stroke-width="1"/>
<line x1="61.5" y1="346.5" x2="64.0" y2="346.5" stroke="#00ffff" stroke-width="1"/>
<text x="57.6" y="353.8" font-size="3.6" fill="#00ff00" text-anchor="middle" font-weight="bold" stroke="#00ff00" stroke-width="0.7" transform="rotate(-90 57.6 353.8)">860</text>
<text x="62.5" y="359.8" font-size="3.6" fill="#00ff00" text-anchor="middle" font-weight="bold" stroke="#00ff00" stroke-width="0.7" transform="rotate(-90 62.5 359.8)">640</text>
<text x="62.5" y="386.6" font-size="3.6" fill="#00ff00" text-anchor="middle" font-weight="bold" stroke="#00ff00" stroke-width="0.7" transform="rotate(-90 62.5 386.6)">2450</text>
<line x1="67.5" y1="400.0" x2="67.5" y2="437.5" stroke="#00ffff" stroke-width="1"/>
<line x1="67.5" y1="436.5" x2="188.7" y2="436.5" stroke="#00ffff" stroke-width="1"/>
<line x1="188.5" y1="405.3" x2="188.5" y2="437.5" stroke="#00ffff" stroke-width="1"/>
<line x1="94.5" y1="397.0" x2="94.5" y2="409.6" stroke="#00ffff" stroke-width="1"/>
<line x1="94.5" y1="408.5" x2="148.5" y2="408.5" stroke="#00ffff" stroke-width="1"/>
<line x1="148.5" y1="396.5" x2="148.5" y2="409.6" stroke="#00ffff" stroke-width="1"/>
<text x="108.0" y="408.2" font-size="3.4" fill="#00ff00" text-anchor="middle" font-weight="bold" stroke="#00ff00" stroke-width="0.7">460</text>
<text x="135.0" y="408.2" font-size="3.4" fill="#00ff00" text-anchor="middle" font-weight="bold" stroke="#00ff00" stroke-width="0.7">460</text>
<line x1="105.0" y1="431.5" x2="168.5" y2="431.5" stroke="#00ffff" stroke-width="1"/>
<line x1="116.5" y1="421.0" x2="116.5" y2="437.0" stroke="#00ffff" stroke-width="1"/>
<line x1="121.5" y1="419.0" x2="121.5" y2="437.0" stroke="#00ffff" stroke-width="1"/>
<line x1="168.5" y1="413.5" x2="168.5" y2="432.3" stroke="#00ffff" stroke-width="1"/>
<text x="108.0" y="431.0" font-size="3.6" fill="#00ff00" text-anchor="middle" font-weight="bold" stroke="#00ff00" stroke-width="0.7">30</text>
<text x="144.8" y="430.8" font-size="3.4" fill="#00ff00" text-anchor="middle" font-weight="bold" stroke="#00ff00" stroke-width="0.7">780</text>
<text x="94.5" y="436.0" font-size="5" fill="#00ff00" text-anchor="middle" font-weight="bold" stroke="#00ff00" stroke-width="0.8">∞</text>
<text x="154.8" y="436.0" font-size="3.2" fill="#00ff00" text-anchor="middle" font-weight="bold" stroke="#00ff00" stroke-width="0.7">1790</text>
<text x="172.4" y="420.6" font-size="4.5" fill="#00ff00" text-anchor="middle" font-weight="bold" stroke="#00ff00" stroke-width="0.3">E</text>
<line x1="121.5" y1="422.5" x2="203.3" y2="422.5" stroke="#00ffff" stroke-width="1"/>
<line x1="181.5" y1="373.5" x2="203.3" y2="373.5" stroke="#00ffff" stroke-width="1"/>
<text x="201.9" y="397.7" font-size="3.6" fill="#00ff00" text-anchor="middle" font-weight="bold" stroke="#00ff00" stroke-width="0.7" transform="rotate(-90 201.9 397.7)">1100</text>
<line x1="146.5" y1="340.5" x2="158.5" y2="340.5" stroke="#00ffff" stroke-width="1"/>
<line x1="148.5" y1="340.0" x2="148.5" y2="352.0" stroke="#00ffff" stroke-width="1"/>
<line x1="154.5" y1="340.0" x2="154.5" y2="352.0" stroke="#00ffff" stroke-width="1"/>
<text x="155.8" y="340.4" font-size="3.4" fill="#00ff00" text-anchor="middle" font-weight="bold" stroke="#00ff00" stroke-width="0.7">50</text>
<text x="154.0" y="352.4" font-size="3.6" fill="#00ff00" text-anchor="middle" font-weight="bold" stroke="#00ff00" stroke-width="0.7" transform="rotate(-90 154.0 352.4)">320</text>
<line x1="190.5" y1="342.5" x2="199.0" y2="342.5" stroke="#00ffff" stroke-width="1"/>
<line x1="190.5" y1="351.5" x2="199.0" y2="351.5" stroke="#00ffff" stroke-width="1"/>
<line x1="196.5" y1="342.8" x2="196.5" y2="351.8" stroke="#00ffff" stroke-width="1"/>
<line x1="193.5" y1="342.8" x2="193.5" y2="351.8" stroke="#00ffff" stroke-width="1"/>
<text x="201.6" y="344.0" font-size="3.6" fill="#00ff00" text-anchor="middle" font-weight="bold" stroke="#00ff00" stroke-width="0.7" transform="rotate(-90 201.6 344.0)">1790</text>
<text x="198.1" y="346.4" font-size="3.6" fill="#00ff00" text-anchor="middle" font-weight="bold" stroke="#00ff00" stroke-width="0.7" transform="rotate(-90 198.1 346.4)">980</text>
<text x="194.6" y="352.8" font-size="3.6" fill="#00ff00" text-anchor="middle" font-weight="bold" stroke="#00ff00" stroke-width="0.7" transform="rotate(-90 194.6 352.8)">420</text>
<text x="308.3" y="333.8" font-size="4.4" fill="#00ff00" text-anchor="middle" font-weight="bold" stroke="#00ff00" stroke-width="0.3">H-H</text>
<line x1="304.0" y1="334.5" x2="312.6" y2="334.5" stroke="#00ff00" stroke-width="0.8"/>
<text x="308.3" y="338.4" font-size="3.2" fill="#00ff00" text-anchor="middle" font-weight="bold" stroke="#00ff00" stroke-width="0.5">1:5</text>
<rect x="283.5" y="355.5" width="48.0" height="44.0" fill="none" stroke="#ffffff" stroke-width="1"/>
<line x1="280.0" y1="380.5" x2="335.8" y2="380.5" stroke="#d81c1c" stroke-width="1.1" stroke-dasharray="9 1.5 2 1.5"/>
<line x1="307.5" y1="357.8" x2="307.5" y2="403.0" stroke="#d81c1c" stroke-width="1.1" stroke-dasharray="9 1.5 2 1.5"/>
<path d="M283.7,355.7 L290.7,383 Q292.5,389.5 296,390.6 L331.6,399.8" fill="none" stroke="#ffffff" stroke-width="1"/>
<rect x="308.5" y="349.5" width="5.0" height="6.0" fill="none" stroke="#ffffff" stroke-width="0.9"/>
<line x1="311.5" y1="350.2" x2="311.5" y2="354.5" stroke="#d81c1c" stroke-width="1"/>
<line x1="309.3" y1="352.5" x2="313.0" y2="352.5" stroke="#d81c1c" stroke-width="0.8"/>
<rect x="301.5" y="402.5" width="6.0" height="6.0" fill="none" stroke="#ffffff" stroke-width="0.9"/>
<line x1="304.5" y1="403.3" x2="304.5" y2="407.4" stroke="#d81c1c" stroke-width="1"/>
<line x1="302.6" y1="405.5" x2="306.7" y2="405.5" stroke="#d81c1c" stroke-width="0.8"/>
<rect x="277.5" y="363.5" width="5.0" height="5.0" fill="none" stroke="#ffffff" stroke-width="0.9"/>
<line x1="279.5" y1="364.5" x2="279.5" y2="367.9" stroke="#d81c1c" stroke-width="1"/>
<line x1="278.4" y1="366.5" x2="281.5" y2="366.5" stroke="#d81c1c" stroke-width="0.8"/>
<rect x="277.5" y="391.5" width="5.0" height="5.0" fill="none" stroke="#ffffff" stroke-width="0.9"/>
<line x1="279.5" y1="391.8" x2="279.5" y2="395.2" stroke="#d81c1c" stroke-width="1"/>
<line x1="278.4" y1="393.5" x2="281.5" y2="393.5" stroke="#d81c1c" stroke-width="0.8"/>
<rect x="338.5" y="363.5" width="5.0" height="5.0" fill="none" stroke="#ffffff" stroke-width="0.9"/>
<line x1="340.5" y1="364.5" x2="340.5" y2="367.9" stroke="#d81c1c" stroke-width="1"/>
<line x1="339.3" y1="366.5" x2="342.4" y2="366.5" stroke="#d81c1c" stroke-width="0.8"/>
<rect x="338.5" y="391.5" width="5.0" height="5.0" fill="none" stroke="#ffffff" stroke-width="0.9"/>
<line x1="340.5" y1="391.8" x2="340.5" y2="395.2" stroke="#d81c1c" stroke-width="1"/>
<line x1="339.3" y1="393.5" x2="342.4" y2="393.5" stroke="#d81c1c" stroke-width="0.8"/>
<line x1="266.5" y1="351.5" x2="266.5" y2="404.0" stroke="#00ffff" stroke-width="1"/>
<line x1="272.5" y1="355.7" x2="272.5" y2="399.8" stroke="#00ffff" stroke-width="1"/>
<line x1="277.5" y1="366.2" x2="277.5" y2="393.5" stroke="#00ffff" stroke-width="1"/>
<line x1="266.5" y1="351.5" x2="310.6" y2="351.5" stroke="#00ffff" stroke-width="1"/>
<line x1="272.4" y1="355.5" x2="283.7" y2="355.5" stroke="#00ffff" stroke-width="1"/>
<line x1="265.5" y1="380.5" x2="280.0" y2="380.5" stroke="#00ffff" stroke-width="1"/>
<line x1="272.4" y1="399.5" x2="283.7" y2="399.5" stroke="#00ffff" stroke-width="1"/>
<line x1="266.5" y1="404.5" x2="280.2" y2="404.5" stroke="#00ffff" stroke-width="1"/>
<line x1="310.5" y1="349.0" x2="310.5" y2="352.5" stroke="#00ffff" stroke-width="1"/>
<text x="266.8" y="364.7" font-size="3.6" fill="#00ff00" text-anchor="middle" font-weight="bold" stroke="#00ff00" stroke-width="0.7" transform="rotate(-90 266.8 364.7)">600</text>
<text x="266.8" y="392.2" font-size="3.6" fill="#00ff00" text-anchor="middle" font-weight="bold" stroke="#00ff00" stroke-width="0.7" transform="rotate(-90 266.8 392.2)">600</text>
<text x="271.7" y="366.7" font-size="3.6" fill="#00ff00" text-anchor="middle" font-weight="bold" stroke="#00ff00" stroke-width="0.7" transform="rotate(-90 271.7 366.7)">230</text>
<text x="271.7" y="388.7" font-size="3.6" fill="#00ff00" text-anchor="middle" font-weight="bold" stroke="#00ff00" stroke-width="0.7" transform="rotate(-90 271.7 388.7)">230</text>
<text x="275.9" y="372.0" font-size="3.6" fill="#00ff00" text-anchor="middle" font-weight="bold" stroke="#00ff00" stroke-width="0.7" transform="rotate(-90 275.9 372.0)">230</text>
<text x="275.9" y="386.2" font-size="3.6" fill="#00ff00" text-anchor="middle" font-weight="bold" stroke="#00ff00" stroke-width="0.7" transform="rotate(-90 275.9 386.2)">230</text>
<line x1="349.5" y1="366.2" x2="349.5" y2="393.5" stroke="#00ffff" stroke-width="1"/>
<line x1="343.2" y1="366.5" x2="350.3" y2="366.5" stroke="#00ffff" stroke-width="1"/>
<line x1="343.2" y1="393.5" x2="350.3" y2="393.5" stroke="#00ffff" stroke-width="1"/>
<line x1="335.8" y1="380.5" x2="350.3" y2="380.5" stroke="#00ffff" stroke-width="1"/>
<text x="348.7" y="372.4" font-size="3.6" fill="#00ff00" text-anchor="middle" font-weight="bold" stroke="#00ff00" stroke-width="0.7" transform="rotate(-90 348.7 372.4)">530</text>
<text x="348.7" y="386.7" font-size="3.6" fill="#00ff00" text-anchor="middle" font-weight="bold" stroke="#00ff00" stroke-width="0.7" transform="rotate(-90 348.7 386.7)">1200</text>
<line x1="304.3" y1="358.5" x2="319.0" y2="358.5" stroke="#00ffff" stroke-width="1"/>
<line x1="307.5" y1="357.0" x2="307.5" y2="360.0" stroke="#00ffff" stroke-width="1"/>
<line x1="311.5" y1="355.0" x2="311.5" y2="360.0" stroke="#00ffff" stroke-width="1"/>
<text x="317.0" y="359.0" font-size="3.2" fill="#00ff00" text-anchor="middle" font-weight="bold" stroke="#00ff00" stroke-width="0.7">100</text>
<line x1="283.5" y1="399.8" x2="283.5" y2="413.5" stroke="#00ffff" stroke-width="1"/>
<line x1="331.5" y1="399.8" x2="331.5" y2="413.5" stroke="#00ffff" stroke-width="1"/>
<line x1="279.5" y1="396.0" x2="279.5" y2="417.6" stroke="#00ffff" stroke-width="1"/>
<line x1="340.5" y1="396.0" x2="340.5" y2="417.6" stroke="#00ffff" stroke-width="1"/>
<line x1="301.8" y1="408.5" x2="312.7" y2="408.5" stroke="#00ffff" stroke-width="1"/>
<line x1="283.7" y1="412.5" x2="331.6" y2="412.5" stroke="#00ffff" stroke-width="1"/>
<line x1="279.5" y1="416.5" x2="340.0" y2="416.5" stroke="#00ffff" stroke-width="1"/>
<line x1="304.5" y1="403.0" x2="304.5" y2="417.6" stroke="#00ffff" stroke-width="1"/>
<text x="295.0" y="412.0" font-size="3.4" fill="#00ff00" text-anchor="middle" font-weight="bold" stroke="#00ff00" stroke-width="0.7">460</text>
<text x="319.0" y="412.0" font-size="3.4" fill="#00ff00" text-anchor="middle" font-weight="bold" stroke="#00ff00" stroke-width="0.7">460</text>
<text x="311.8" y="408.6" font-size="3.2" fill="#00ff00" text-anchor="middle" font-weight="bold" stroke="#00ff00" stroke-width="0.7">100</text>
<text x="293.0" y="416.2" font-size="3.4" fill="#00ff00" text-anchor="middle" font-weight="bold" stroke="#00ff00" stroke-width="0.7">560</text>
<text x="324.0" y="416.2" font-size="3.4" fill="#00ff00" text-anchor="middle" font-weight="bold" stroke="#00ff00" stroke-width="0.7">560</text>
<text x="258.2" y="416.0" font-size="3.4" fill="#00ff00" text-anchor="middle" font-weight="bold" stroke="#00ff00" stroke-width="0.6">6-ø22,L=1100</text>
<line x1="244.5" y1="416.5" x2="271.8" y2="416.5" stroke="#00ffff" stroke-width="1"/>
<line x1="271.8" y1="416.6" x2="280.2" y2="393.5" stroke="#00ffff" stroke-width="1"/>
<text x="579.8" y="255.2" font-size="4" fill="#00ff00" font-weight="bold" stroke="#00ff00" stroke-width="0.4" textLength="9.4" lengthAdjust="spacingAndGlyphs">技术特性</text>
<rect x="540.5" y="262.5" width="96.0" height="35.0" fill="none" stroke="#00ffff" stroke-width="1"/>
<line x1="540.5" y1="266.5" x2="636.1" y2="266.5" stroke="#00ffff" stroke-width="1"/>
<line x1="540.5" y1="270.5" x2="636.1" y2="270.5" stroke="#00ffff" stroke-width="1"/>
<line x1="540.5" y1="275.5" x2="636.1" y2="275.5" stroke="#00ffff" stroke-width="1"/>
<line x1="540.5" y1="279.5" x2="636.1" y2="279.5" stroke="#00ffff" stroke-width="1"/>
<line x1="540.5" y1="288.5" x2="636.1" y2="288.5" stroke="#00ffff" stroke-width="1"/>
<line x1="583.5" y1="283.5" x2="636.1" y2="283.5" stroke="#00ffff" stroke-width="1"/>
<line x1="583.5" y1="292.5" x2="636.1" y2="292.5" stroke="#00ffff" stroke-width="1"/>
<line x1="583.5" y1="262.2" x2="583.5" y2="297.2" stroke="#00ffff" stroke-width="1"/>
<line x1="610.5" y1="279.4" x2="610.5" y2="297.2" stroke="#00ffff" stroke-width="1"/>
<text x="541.2" y="265.9" font-size="3.6" fill="#00ff00" font-weight="bold" stroke="#00ff00" stroke-width="0.4" textLength="8.3" lengthAdjust="spacingAndGlyphs">筒体内径</text>
<text x="562.5" y="265.9" font-size="3.8" fill="#00ff00" font-weight="bold" stroke="#00ff00" stroke-width="0.5" textLength="8.3" lengthAdjust="spacingAndGlyphs">1200</text>
<text x="584.6" y="265.9" font-size="3.6" fill="#00ff00" font-weight="bold" stroke="#00ff00" stroke-width="0.4" textLength="11.5" lengthAdjust="spacingAndGlyphs">转速r/min</text>
<text x="541.2" y="270.2" font-size="3.6" fill="#00ff00" font-weight="bold" stroke="#00ff00" stroke-width="0.4" textLength="10" lengthAdjust="spacingAndGlyphs">筒体长度</text>
<text x="562.5" y="270.2" font-size="3.8" fill="#00ff00" font-weight="bold" stroke="#00ff00" stroke-width="0.5" textLength="7.5" lengthAdjust="spacingAndGlyphs">800</text>
<text x="584.6" y="270.2" font-size="3.6" fill="#00ff00" font-weight="bold" stroke="#00ff00" stroke-width="0.4" textLength="5" lengthAdjust="spacingAndGlyphs">功率</text>
<text x="541.2" y="274.4" font-size="3.6" fill="#00ff00" font-weight="bold" stroke="#00ff00" stroke-width="0.4" textLength="10.5" lengthAdjust="spacingAndGlyphs">搅拌容积</text>
<text x="562.5" y="274.4" font-size="3.8" fill="#00ff00" font-weight="bold" stroke="#00ff00" stroke-width="0.5" textLength="16" lengthAdjust="spacingAndGlyphs">0.8~1.2m³</text>
<text x="584.6" y="274.4" font-size="3.6" fill="#00ff00" font-weight="bold" stroke="#00ff00" stroke-width="0.4" textLength="17" lengthAdjust="spacingAndGlyphs">电动机型号</text>
<text x="541.2" y="278.8" font-size="3.6" fill="#00ff00" font-weight="bold" stroke="#00ff00" stroke-width="0.4" textLength="8.3" lengthAdjust="spacingAndGlyphs">生产能力</text>
<text x="562.5" y="278.8" font-size="3.8" fill="#00ff00" font-weight="bold" stroke="#00ff00" stroke-width="0.5" textLength="12" lengthAdjust="spacingAndGlyphs">5~7t/h</text>
<text x="584.6" y="278.8" font-size="3.6" fill="#00ff00" font-weight="bold" stroke="#00ff00" stroke-width="0.4" textLength="11" lengthAdjust="spacingAndGlyphs">减速机</text>
<text x="559.2" y="286.2" font-size="4.4" fill="#00ff00" font-weight="bold" stroke="#00ff00" stroke-width="0.5" textLength="6" lengthAdjust="spacingAndGlyphs">电机</text>
<text x="559.2" y="295.2" font-size="4.4" fill="#00ff00" font-weight="bold" stroke="#00ff00" stroke-width="0.5" textLength="6" lengthAdjust="spacingAndGlyphs">减速</text>
<text x="584.6" y="283.2" font-size="3.6" fill="#00ff00" font-weight="bold" stroke="#00ff00" stroke-width="0.4" textLength="4.5" lengthAdjust="spacingAndGlyphs">型号</text>
<text x="611.2" y="283.2" font-size="3.8" fill="#00ff00" font-weight="bold" stroke="#00ff00" stroke-width="0.5" textLength="15" lengthAdjust="spacingAndGlyphs">Y132M-4</text>
<text x="584.6" y="287.7" font-size="3.6" fill="#00ff00" font-weight="bold" stroke="#00ff00" stroke-width="0.4" textLength="14.5" lengthAdjust="spacingAndGlyphs">功率kW</text>
<text x="611.2" y="287.7" font-size="3.8" fill="#00ff00" font-weight="bold" stroke="#00ff00" stroke-width="0.5" textLength="5" lengthAdjust="spacingAndGlyphs">7.5</text>
<text x="584.6" y="292.3" font-size="3.6" fill="#00ff00" font-weight="bold" stroke="#00ff00" stroke-width="0.4" textLength="3.5" lengthAdjust="spacingAndGlyphs">型号</text>
<text x="611.2" y="292.3" font-size="3.8" fill="#00ff00" font-weight="bold" stroke="#00ff00" stroke-width="0.5" textLength="17" lengthAdjust="spacingAndGlyphs">XWD7.5-6</text>
<text x="584.6" y="296.7" font-size="3.6" fill="#00ff00" font-weight="bold" stroke="#00ff00" stroke-width="0.4" textLength="3.5" lengthAdjust="spacingAndGlyphs">速比</text>
<text x="611.2" y="296.7" font-size="3.8" fill="#00ff00" font-weight="bold" stroke="#00ff00" stroke-width="0.5" textLength="5" lengthAdjust="spacingAndGlyphs">17</text>
<text x="546.4" y="338.1" font-size="4.1" fill="#00ff00" font-weight="bold" stroke="#00ff00" stroke-width="0.7">搅拌机组件图</text>
<text x="572.6" y="338.1" font-size="3.8" fill="#00ff00" font-weight="bold" stroke="#00ff00" stroke-width="0.5" textLength="17" lengthAdjust="spacingAndGlyphs">电动机Y132M4</text>
<text x="592.4" y="338.1" font-size="3.6" fill="#00ff00" text-anchor="middle" font-weight="bold" stroke="#00ff00" stroke-width="0.7">1</text>
<text x="604.5" y="337.9" font-size="3" fill="#00ff00" text-anchor="middle" font-weight="bold" stroke="#00ff00" stroke-width="0.5">组件</text>
<text x="546.4" y="342.4" font-size="4.1" fill="#00ff00" font-weight="bold" stroke="#00ff00" stroke-width="0.7">搅拌机组件图</text>
<text x="572.6" y="342.4" font-size="3.8" fill="#00ff00" font-weight="bold" stroke="#00ff00" stroke-width="0.5" textLength="10" lengthAdjust="spacingAndGlyphs">减速机XWD</text>
<text x="592.4" y="342.4" font-size="3.6" fill="#00ff00" text-anchor="middle" font-weight="bold" stroke="#00ff00" stroke-width="0.7">1</text>
<text x="546.4" y="346.8" font-size="4.1" fill="#00ff00" font-weight="bold" stroke="#00ff00" stroke-width="0.7">国标螺栓紧固</text>
<text x="572.6" y="346.8" font-size="3.8" fill="#00ff00" font-weight="bold" stroke="#00ff00" stroke-width="0.5" textLength="17" lengthAdjust="spacingAndGlyphs">联轴器弹性柱销</text>
<text x="592.4" y="346.8" font-size="3.6" fill="#00ff00" text-anchor="middle" font-weight="bold" stroke="#00ff00" stroke-width="0.7">1</text>
<text x="546.4" y="351.2" font-size="4.1" fill="#00ff00" font-weight="bold" stroke="#00ff00" stroke-width="0.7">搅拌机组件图</text>
<text x="572.6" y="351.2" font-size="3.8" fill="#00ff00" font-weight="bold" stroke="#00ff00" stroke-width="0.5" textLength="8" lengthAdjust="spacingAndGlyphs">轴承座</text>
<text x="592.4" y="351.2" font-size="3.6" fill="#00ff00" text-anchor="middle" font-weight="bold" stroke="#00ff00" stroke-width="0.7">1</text>
<text x="546.4" y="355.6" font-size="4.1" fill="#00ff00" font-weight="bold" stroke="#00ff00" stroke-width="0.7">搅拌机组件图</text>
<text x="572.6" y="355.6" font-size="3.8" fill="#00ff00" font-weight="bold" stroke="#00ff00" stroke-width="0.5" textLength="8" lengthAdjust="spacingAndGlyphs">搅拌轴</text>
<text x="592.4" y="355.6" font-size="3.6" fill="#00ff00" text-anchor="middle" font-weight="bold" stroke="#00ff00" stroke-width="0.7">1</text>
<text x="604.5" y="355.4" font-size="3" fill="#00ff00" text-anchor="middle" font-weight="bold" stroke="#00ff00" stroke-width="0.5">Q235</text>
<text x="546.4" y="359.9" font-size="4.1" fill="#00ff00" font-weight="bold" stroke="#00ff00" stroke-width="0.7">搅拌机组件图</text>
<text x="572.6" y="359.9" font-size="3.8" fill="#00ff00" font-weight="bold" stroke="#00ff00" stroke-width="0.5" textLength="11" lengthAdjust="spacingAndGlyphs">搅拌叶片组</text>
<text x="592.4" y="359.9" font-size="3.6" fill="#00ff00" text-anchor="middle" font-weight="bold" stroke="#00ff00" stroke-width="0.7">1</text>
<text x="604.5" y="359.8" font-size="3" fill="#00ff00" text-anchor="middle" font-weight="bold" stroke="#00ff00" stroke-width="0.5">A</text>
<text x="546.4" y="364.3" font-size="4.1" fill="#00ff00" font-weight="bold" stroke="#00ff00" stroke-width="0.7">搅拌机焊接件</text>
<text x="572.6" y="364.3" font-size="3.8" fill="#00ff00" font-weight="bold" stroke="#00ff00" stroke-width="0.5" textLength="15" lengthAdjust="spacingAndGlyphs">筒体焊接组件</text>
<text x="592.4" y="364.3" font-size="3.6" fill="#00ff00" text-anchor="middle" font-weight="bold" stroke="#00ff00" stroke-width="0.7">1</text>
<text x="604.5" y="364.1" font-size="3" fill="#00ff00" text-anchor="middle" font-weight="bold" stroke="#00ff00" stroke-width="0.5">45</text>
<text x="546.4" y="368.7" font-size="4.1" fill="#00ff00" font-weight="bold" stroke="#00ff00" stroke-width="0.7">搅拌机焊接件</text>
<text x="572.6" y="368.7" font-size="3.8" fill="#00ff00" font-weight="bold" stroke="#00ff00" stroke-width="0.5" textLength="8" lengthAdjust="spacingAndGlyphs">上盖</text>
<text x="592.4" y="368.7" font-size="3.6" fill="#00ff00" text-anchor="middle" font-weight="bold" stroke="#00ff00" stroke-width="0.7">1</text>
<text x="546.4" y="373.1" font-size="4.1" fill="#00ff00" font-weight="bold" stroke="#00ff00" stroke-width="0.7">搅拌机焊接件</text>
<text x="572.6" y="373.1" font-size="3.8" fill="#00ff00" font-weight="bold" stroke="#00ff00" stroke-width="0.5" textLength="8" lengthAdjust="spacingAndGlyphs">进料斗</text>
<text x="592.4" y="373.1" font-size="3.6" fill="#00ff00" text-anchor="middle" font-weight="bold" stroke="#00ff00" stroke-width="0.7">1</text>
<text x="604.5" y="372.9" font-size="3" fill="#00ff00" text-anchor="middle" font-weight="bold" stroke="#00ff00" stroke-width="0.5">Q235</text>
<text x="546.4" y="377.5" font-size="4.1" fill="#00ff00" font-weight="bold" stroke="#00ff00" stroke-width="0.7">搅拌机焊接件</text>
<text x="572.6" y="377.5" font-size="3.8" fill="#00ff00" font-weight="bold" stroke="#00ff00" stroke-width="0.5" textLength="8" lengthAdjust="spacingAndGlyphs">出料口</text>
<text x="592.4" y="377.5" font-size="3.6" fill="#00ff00" text-anchor="middle" font-weight="bold" stroke="#00ff00" stroke-width="0.7">1</text>
<text x="604.5" y="377.3" font-size="3" fill="#00ff00" text-anchor="middle" font-weight="bold" stroke="#00ff00" stroke-width="0.5">A</text>
<text x="546.4" y="381.9" font-size="4.1" fill="#00ff00" font-weight="bold" stroke="#00ff00" stroke-width="0.7">搅拌机焊接件</text>
<text x="572.6" y="381.9" font-size="3.8" fill="#00ff00" font-weight="bold" stroke="#00ff00" stroke-width="0.5" textLength="10" lengthAdjust="spacingAndGlyphs">支架焊件</text>
<text x="592.4" y="381.9" font-size="3.6" fill="#00ff00" text-anchor="middle" font-weight="bold" stroke="#00ff00" stroke-width="0.7">1</text>
<text x="604.5" y="381.7" font-size="3" fill="#00ff00" text-anchor="middle" font-weight="bold" stroke="#00ff00" stroke-width="0.5">45</text>
<text x="546.4" y="386.2" font-size="4.1" fill="#00ff00" font-weight="bold" stroke="#00ff00" stroke-width="0.7">搅拌机焊接件</text>
<text x="572.6" y="386.2" font-size="3.8" fill="#00ff00" font-weight="bold" stroke="#00ff00" stroke-width="0.5" textLength="10" lengthAdjust="spacingAndGlyphs">操作平台</text>
<text x="592.4" y="386.2" font-size="3.6" fill="#00ff00" text-anchor="middle" font-weight="bold" stroke="#00ff00" stroke-width="0.7">1</text>
<text x="604.5" y="386.0" font-size="3" fill="#00ff00" text-anchor="middle" font-weight="bold" stroke="#00ff00" stroke-width="0.5">Q235</text>
<text x="546.4" y="390.6" font-size="4.1" fill="#00ff00" font-weight="bold" stroke="#00ff00" stroke-width="0.7">国标螺栓紧固</text>
<text x="572.6" y="390.6" font-size="3.8" fill="#00ff00" font-weight="bold" stroke="#00ff00" stroke-width="0.5" textLength="8" lengthAdjust="spacingAndGlyphs">栏杆</text>
<text x="592.4" y="390.6" font-size="3.6" fill="#00ff00" text-anchor="middle" font-weight="bold" stroke="#00ff00" stroke-width="0.7">1</text>
<text x="604.5" y="390.4" font-size="3" fill="#00ff00" text-anchor="middle" font-weight="bold" stroke="#00ff00" stroke-width="0.5">A</text>
<text x="546.4" y="395.0" font-size="4.1" fill="#00ff00" font-weight="bold" stroke="#00ff00" stroke-width="0.7">搅拌机焊接件</text>
<text x="572.6" y="395.0" font-size="3.8" fill="#00ff00" font-weight="bold" stroke="#00ff00" stroke-width="0.5" textLength="8" lengthAdjust="spacingAndGlyphs">梯子</text>
<text x="592.4" y="395.0" font-size="3.6" fill="#00ff00" text-anchor="middle" font-weight="bold" stroke="#00ff00" stroke-width="0.7">1</text>
<text x="604.5" y="394.8" font-size="3" fill="#00ff00" text-anchor="middle" font-weight="bold" stroke="#00ff00" stroke-width="0.5">Q235</text>
<text x="546.4" y="399.4" font-size="4.1" fill="#00ff00" font-weight="bold" stroke="#00ff00" stroke-width="0.7">搅拌机焊接件</text>
<text x="572.6" y="399.4" font-size="3.8" fill="#00ff00" font-weight="bold" stroke="#00ff00" stroke-width="0.5" textLength="13" lengthAdjust="spacingAndGlyphs">底座焊接件</text>
<text x="592.4" y="399.4" font-size="3.6" fill="#00ff00" text-anchor="middle" font-weight="bold" stroke="#00ff00" stroke-width="0.7">1</text>
<text x="549.3" y="403.6" font-size="3" fill="#00ff00" text-anchor="middle" font-weight="bold" stroke="#00ff00" stroke-width="0.5">10</text>
<text x="552.3" y="403.8" font-size="3.9" fill="#00ff00" font-weight="bold" stroke="#00ff00" stroke-width="0.55" textLength="17" lengthAdjust="spacingAndGlyphs">搅拌机焊接</text>
<text x="572.6" y="403.8" font-size="3.8" fill="#00ff00" font-weight="bold" stroke="#00ff00" stroke-width="0.5" textLength="6" lengthAdjust="spacingAndGlyphs">锥形料斗</text>
<text x="592.4" y="403.8" font-size="3.6" fill="#00ff00" text-anchor="middle" font-weight="bold" stroke="#00ff00" stroke-width="0.7">1</text>
<text x="549.3" y="407.9" font-size="3" fill="#00ff00" text-anchor="middle" font-weight="bold" stroke="#00ff00" stroke-width="0.5">9</text>
<text x="572.6" y="408.1" font-size="3.8" fill="#00ff00" font-weight="bold" stroke="#00ff00" stroke-width="0.5" textLength="11" lengthAdjust="spacingAndGlyphs">检修门</text>
<text x="592.4" y="408.1" font-size="3.6" fill="#00ff00" text-anchor="middle" font-weight="bold" stroke="#00ff00" stroke-width="0.7">1</text>
<text x="604.5" y="407.9" font-size="3" fill="#00ff00" text-anchor="middle" font-weight="bold" stroke="#00ff00" stroke-width="0.5">HT200</text>
<text x="549.3" y="412.3" font-size="3" fill="#00ff00" text-anchor="middle" font-weight="bold" stroke="#00ff00" stroke-width="0.5">8</text>
<text x="552.3" y="412.5" font-size="3.9" fill="#00ff00" font-weight="bold" stroke="#00ff00" stroke-width="0.55" textLength="12" lengthAdjust="spacingAndGlyphs">搅拌机组件</text>
<text x="572.6" y="412.5" font-size="3.8" fill="#00ff00" font-weight="bold" stroke="#00ff00" stroke-width="0.5" textLength="7" lengthAdjust="spacingAndGlyphs">螺栓M16x60</text>
<text x="592.4" y="412.5" font-size="3.6" fill="#00ff00" text-anchor="middle" font-weight="bold" stroke="#00ff00" stroke-width="0.7">1</text>
<text x="549.3" y="416.7" font-size="3" fill="#00ff00" text-anchor="middle" font-weight="bold" stroke="#00ff00" stroke-width="0.5">7</text>
<text x="552.3" y="416.9" font-size="3.9" fill="#00ff00" font-weight="bold" stroke="#00ff00" stroke-width="0.55" textLength="12" lengthAdjust="spacingAndGlyphs">搅拌机组件</text>
<text x="572.6" y="416.9" font-size="3.8" fill="#00ff00" font-weight="bold" stroke="#00ff00" stroke-width="0.5" textLength="5" lengthAdjust="spacingAndGlyphs">螺母M16</text>
<text x="592.4" y="416.9" font-size="3.6" fill="#00ff00" text-anchor="middle" font-weight="bold" stroke="#00ff00" stroke-width="0.7">1</text>
<text x="549.3" y="421.1" font-size="3" fill="#00ff00" text-anchor="middle" font-weight="bold" stroke="#00ff00" stroke-width="0.5">6</text>
<text x="552.3" y="421.3" font-size="3.9" fill="#00ff00" font-weight="bold" stroke="#00ff00" stroke-width="0.55" textLength="11" lengthAdjust="spacingAndGlyphs">搅拌机组件</text>
<text x="572.6" y="421.3" font-size="3.8" fill="#00ff00" font-weight="bold" stroke="#00ff00" stroke-width="0.5" textLength="4.5" lengthAdjust="spacingAndGlyphs">垫圈16</text>
<text x="592.4" y="421.3" font-size="3.6" fill="#00ff00" text-anchor="middle" font-weight="bold" stroke="#00ff00" stroke-width="0.7">1</text>
<text x="549.3" y="425.4" font-size="3" fill="#00ff00" text-anchor="middle" font-weight="bold" stroke="#00ff00" stroke-width="0.5">5</text>
<text x="552.3" y="425.6" font-size="3.9" fill="#00ff00" font-weight="bold" stroke="#00ff00" stroke-width="0.55" textLength="12" lengthAdjust="spacingAndGlyphs">搅拌机组件</text>
<text x="572.6" y="425.6" font-size="3.8" fill="#00ff00" font-weight="bold" stroke="#00ff00" stroke-width="0.5" textLength="5" lengthAdjust="spacingAndGlyphs">螺栓M12x45</text>
<text x="592.4" y="425.6" font-size="3.6" fill="#00ff00" text-anchor="middle" font-weight="bold" stroke="#00ff00" stroke-width="0.7">1</text>
<text x="549.3" y="429.8" font-size="3" fill="#00ff00" text-anchor="middle" font-weight="bold" stroke="#00ff00" stroke-width="0.5">4</text>
<text x="552.3" y="430.0" font-size="3.9" fill="#00ff00" font-weight="bold" stroke="#00ff00" stroke-width="0.55" textLength="18" lengthAdjust="spacingAndGlyphs">搅拌机组件</text>
<text x="572.6" y="430.0" font-size="3.8" fill="#00ff00" font-weight="bold" stroke="#00ff00" stroke-width="0.5" textLength="11" lengthAdjust="spacingAndGlyphs">螺母M12</text>
<text x="592.4" y="430.0" font-size="3.6" fill="#00ff00" text-anchor="middle" font-weight="bold" stroke="#00ff00" stroke-width="0.7">1</text>
<text x="549.3" y="434.2" font-size="3" fill="#00ff00" text-anchor="middle" font-weight="bold" stroke="#00ff00" stroke-width="0.5">3</text>
<text x="572.6" y="434.4" font-size="3.8" fill="#00ff00" font-weight="bold" stroke="#00ff00" stroke-width="0.5" textLength="14" lengthAdjust="spacingAndGlyphs">垫圈12</text>
<text x="592.4" y="434.4" font-size="3.6" fill="#00ff00" text-anchor="middle" font-weight="bold" stroke="#00ff00" stroke-width="0.7">1</text>
<text x="635.5" y="434.2" font-size="2.8" fill="#00ff00" text-anchor="middle" font-weight="bold" stroke="#00ff00" stroke-width="0.5">外购件</text>
<text x="549.3" y="438.6" font-size="3" fill="#00ff00" text-anchor="middle" font-weight="bold" stroke="#00ff00" stroke-width="0.5">2</text>
<text x="552.3" y="438.8" font-size="3.9" fill="#00ff00" font-weight="bold" stroke="#00ff00" stroke-width="0.55" textLength="17.5" lengthAdjust="spacingAndGlyphs">搅拌机组件</text>
<text x="572.6" y="438.8" font-size="3.8" fill="#00ff00" font-weight="bold" stroke="#00ff00" stroke-width="0.5" textLength="6" lengthAdjust="spacingAndGlyphs">密封垫</text>
<text x="592.4" y="438.8" font-size="3.6" fill="#00ff00" text-anchor="middle" font-weight="bold" stroke="#00ff00" stroke-width="0.7">1</text>
<text x="549.3" y="443.0" font-size="3" fill="#00ff00" text-anchor="middle" font-weight="bold" stroke="#00ff00" stroke-width="0.5">1</text>
<text x="572.6" y="443.2" font-size="3.8" fill="#00ff00" font-weight="bold" stroke="#00ff00" stroke-width="0.5" textLength="16" lengthAdjust="spacingAndGlyphs">铭牌</text>
<text x="592.4" y="443.2" font-size="3.6" fill="#00ff00" text-anchor="middle" font-weight="bold" stroke="#00ff00" stroke-width="0.7">1</text>
<text x="635.5" y="443.0" font-size="2.8" fill="#00ff00" text-anchor="middle" font-weight="bold" stroke="#00ff00" stroke-width="0.5">外购</text>
<line x1="545.6" y1="334.5" x2="643.5" y2="334.5" stroke="#00ffff" stroke-width="1"/>
<line x1="545.5" y1="334.3" x2="545.5" y2="449.4" stroke="#ffffff" stroke-width="1.2"/>
<line x1="545.6" y1="338.5" x2="643.5" y2="338.5" stroke="#00ffff" stroke-width="1"/>
<line x1="545.6" y1="343.5" x2="643.5" y2="343.5" stroke="#00ffff" stroke-width="1"/>
<line x1="545.6" y1="347.5" x2="643.5" y2="347.5" stroke="#00ffff" stroke-width="1"/>
<line x1="545.6" y1="351.5" x2="643.5" y2="351.5" stroke="#00ffff" stroke-width="1"/>
<line x1="545.6" y1="356.5" x2="643.5" y2="356.5" stroke="#00ffff" stroke-width="1"/>
<line x1="545.6" y1="360.5" x2="643.5" y2="360.5" stroke="#00ffff" stroke-width="1"/>
<line x1="545.6" y1="364.5" x2="643.5" y2="364.5" stroke="#00ffff" stroke-width="1"/>
<line x1="545.6" y1="369.5" x2="643.5" y2="369.5" stroke="#00ffff" stroke-width="1"/>
<line x1="545.6" y1="373.5" x2="643.5" y2="373.5" stroke="#00ffff" stroke-width="1"/>
<line x1="545.6" y1="378.5" x2="643.5" y2="378.5" stroke="#00ffff" stroke-width="1"/>
<line x1="545.6" y1="382.5" x2="643.5" y2="382.5" stroke="#00ffff" stroke-width="1"/>
<line x1="545.6" y1="386.5" x2="643.5" y2="386.5" stroke="#00ffff" stroke-width="1"/>
<line x1="545.6" y1="391.5" x2="643.5" y2="391.5" stroke="#00ffff" stroke-width="1"/>
<line x1="545.6" y1="395.5" x2="643.5" y2="395.5" stroke="#00ffff" stroke-width="1"/>
<line x1="545.6" y1="400.5" x2="643.5" y2="400.5" stroke="#00ffff" stroke-width="1"/>
<line x1="545.6" y1="404.5" x2="643.5" y2="404.5" stroke="#00ffff" stroke-width="1"/>
<line x1="545.6" y1="408.5" x2="643.5" y2="408.5" stroke="#00ffff" stroke-width="1"/>
<line x1="545.6" y1="413.5" x2="643.5" y2="413.5" stroke="#00ffff" stroke-width="1"/>
<line x1="545.6" y1="417.5" x2="643.5" y2="417.5" stroke="#00ffff" stroke-width="1"/>
<line x1="545.6" y1="421.5" x2="643.5" y2="421.5" stroke="#00ffff" stroke-width="1"/>
<line x1="545.6" y1="426.5" x2="643.5" y2="426.5" stroke="#00ffff" stroke-width="1"/>
<line x1="545.6" y1="430.5" x2="643.5" y2="430.5" stroke="#00ffff" stroke-width="1"/>
<line x1="545.6" y1="435.5" x2="643.5" y2="435.5" stroke="#00ffff" stroke-width="1"/>
<line x1="545.6" y1="439.5" x2="643.5" y2="439.5" stroke="#00ffff" stroke-width="1"/>
<line x1="545.6" y1="443.5" x2="643.5" y2="443.5" stroke="#00ffff" stroke-width="1"/>
<line x1="571.5" y1="334.3" x2="571.5" y2="449.4" stroke="#00ffff" stroke-width="1"/>
<line x1="589.5" y1="334.3" x2="589.5" y2="449.4" stroke="#00ffff" stroke-width="1"/>
<line x1="594.5" y1="334.3" x2="594.5" y2="449.4" stroke="#00ffff" stroke-width="1"/>
<line x1="614.5" y1="334.3" x2="614.5" y2="449.4" stroke="#00ffff" stroke-width="1"/>
<line x1="620.5" y1="334.3" x2="620.5" y2="449.4" stroke="#00ffff" stroke-width="1"/>
<line x1="628.5" y1="334.3" x2="628.5" y2="449.4" stroke="#00ffff" stroke-width="1"/>
<line x1="551.5" y1="334.3" x2="551.5" y2="449.4" stroke="#00ffff" stroke-width="1"/>
<text x="548.3" y="448.0" font-size="2.8" fill="#00ff00" text-anchor="middle" font-weight="bold" stroke="#00ff00" stroke-width="0.4">序号</text>
<text x="556.0" y="448.0" font-size="2.8" fill="#00ff00" text-anchor="middle" font-weight="bold" stroke="#00ff00" stroke-width="0.4">代</text>
<text x="566.8" y="448.0" font-size="2.8" fill="#00ff00" text-anchor="middle" font-weight="bold" stroke="#00ff00" stroke-width="0.4">号</text>
<text x="574.6" y="448.0" font-size="2.8" fill="#00ff00" text-anchor="middle" font-weight="bold" stroke="#00ff00" stroke-width="0.4">名</text>
<text x="584.5" y="448.0" font-size="2.8" fill="#00ff00" text-anchor="middle" font-weight="bold" stroke="#00ff00" stroke-width="0.4">称</text>
<text x="592.3" y="448.0" font-size="2.8" fill="#00ff00" text-anchor="middle" font-weight="bold" stroke="#00ff00" stroke-width="0.4">数</text>
<text x="599.0" y="448.0" font-size="2.8" fill="#00ff00" text-anchor="middle" font-weight="bold" stroke="#00ff00" stroke-width="0.4">材</text>
<text x="609.0" y="448.0" font-size="2.8" fill="#00ff00" text-anchor="middle" font-weight="bold" stroke="#00ff00" stroke-width="0.4">料</text>
<text x="617.7" y="448.0" font-size="2.8" fill="#00ff00" text-anchor="middle" font-weight="bold" stroke="#00ff00" stroke-width="0.4">单重</text>
<text x="624.5" y="448.0" font-size="2.8" fill="#00ff00" text-anchor="middle" font-weight="bold" stroke="#00ff00" stroke-width="0.4">总重</text>
<text x="632.0" y="448.0" font-size="2.8" fill="#00ff00" text-anchor="middle" font-weight="bold" stroke="#00ff00" stroke-width="0.4">备</text>
<text x="640.0" y="448.0" font-size="2.8" fill="#00ff00" text-anchor="middle" font-weight="bold" stroke="#00ff00" stroke-width="0.4">注</text>
<rect x="545.5" y="449.5" width="98.0" height="25.0" fill="none" stroke="#ffffff" stroke-width="1.2"/>
<line x1="578.5" y1="449.3" x2="578.5" y2="474.3" stroke="#ffffff" stroke-width="1.2"/>
<line x1="611.5" y1="449.3" x2="611.5" y2="474.3" stroke="#ffffff" stroke-width="1.2"/>
<line x1="611.6" y1="457.5" x2="643.5" y2="457.5" stroke="#ffffff" stroke-width="1.2"/>
<line x1="611.6" y1="465.5" x2="643.5" y2="465.5" stroke="#ffffff" stroke-width="1.2"/>
<line x1="578.4" y1="463.5" x2="611.6" y2="463.5" stroke="#ffffff" stroke-width="1.2"/>
<line x1="550.5" y1="449.3" x2="550.5" y2="460.3" stroke="#ffffff" stroke-width="1"/>
<line x1="553.5" y1="449.3" x2="553.5" y2="460.3" stroke="#ffffff" stroke-width="1"/>
<line x1="564.5" y1="449.3" x2="564.5" y2="460.3" stroke="#ffffff" stroke-width="1"/>
<line x1="573.5" y1="449.3" x2="573.5" y2="460.3" stroke="#ffffff" stroke-width="1"/>
<line x1="545.6" y1="452.5" x2="578.4" y2="452.5" stroke="#00ffff" stroke-width="1"/>
<line x1="545.6" y1="455.5" x2="578.4" y2="455.5" stroke="#00ffff" stroke-width="1"/>
<line x1="545.6" y1="457.5" x2="578.4" y2="457.5" stroke="#00ffff" stroke-width="1"/>
<line x1="545.6" y1="460.5" x2="578.4" y2="460.5" stroke="#ffffff" stroke-width="1"/>
<line x1="545.6" y1="463.5" x2="578.4" y2="463.5" stroke="#ffffff" stroke-width="1"/>
<line x1="545.6" y1="467.5" x2="578.4" y2="467.5" stroke="#00ffff" stroke-width="1"/>
<line x1="545.6" y1="470.5" x2="578.4" y2="470.5" stroke="#00ffff" stroke-width="1"/>
<line x1="553.5" y1="463.5" x2="553.5" y2="474.3" stroke="#ffffff" stroke-width="1"/>
<line x1="562.5" y1="463.5" x2="562.5" y2="474.3" stroke="#ffffff" stroke-width="1"/>
<line x1="570.5" y1="463.5" x2="570.5" y2="474.3" stroke="#ffffff" stroke-width="1"/>
<line x1="578.4" y1="466.5" x2="611.6" y2="466.5" stroke="#00ffff" stroke-width="1"/>
<line x1="578.4" y1="470.5" x2="611.6" y2="470.5" stroke="#00ffff" stroke-width="1"/>
<line x1="582.5" y1="463.2" x2="582.5" y2="474.3" stroke="#00ffff" stroke-width="1"/>
<line x1="590.5" y1="463.2" x2="590.5" y2="474.3" stroke="#00ffff" stroke-width="1"/>
<line x1="594.5" y1="463.2" x2="594.5" y2="474.3" stroke="#00ffff" stroke-width="1"/>
<line x1="604.5" y1="463.2" x2="604.5" y2="474.3" stroke="#00ffff" stroke-width="1"/>
<line x1="609.5" y1="463.2" x2="609.5" y2="474.3" stroke="#00ffff" stroke-width="1"/>
<text x="593.8" y="458.7" font-size="4.6" fill="#00ff00" text-anchor="middle" font-weight="bold" stroke="#00ff00" stroke-width="0.5">组件</text>
<text x="627.0" y="463.6" font-size="3.6" fill="#00ff00" text-anchor="middle" font-weight="bold" stroke="#00ff00" stroke-width="0.6">D-8gx 10</text>
<text x="627.4" y="471.8" font-size="2.6" fill="#00ff00" text-anchor="middle" font-weight="bold" stroke="#00ff00" stroke-width="0.5">搅拌机总图</text>
<text x="549.0" y="462.9" font-size="2.4" fill="#00ff00" text-anchor="middle" font-weight="bold" stroke="#00ff00" stroke-width="0.4">标记</text>
<text x="558.0" y="462.9" font-size="2.4" fill="#00ff00" text-anchor="middle" font-weight="bold" stroke="#00ff00" stroke-width="0.4">处数</text>
<text x="567.0" y="462.9" font-size="2.4" fill="#00ff00" text-anchor="middle" font-weight="bold" stroke="#00ff00" stroke-width="0.4">分区</text>
<text x="575.0" y="462.9" font-size="2.4" fill="#00ff00" text-anchor="middle" font-weight="bold" stroke="#00ff00" stroke-width="0.4">签名</text>
<text x="549.0" y="466.8" font-size="2.4" fill="#00ff00" text-anchor="middle" font-weight="bold" stroke="#00ff00" stroke-width="0.4">设计</text>
<text x="549.0" y="473.7" font-size="2.4" fill="#00ff00" text-anchor="middle" font-weight="bold" stroke="#00ff00" stroke-width="0.4">审核</text>
<text x="566.0" y="466.6" font-size="2.4" fill="#00ff00" text-anchor="middle" font-weight="bold" stroke="#00ff00" stroke-width="0.4">工艺</text>
<text x="566.0" y="473.7" font-size="2.4" fill="#00ff00" text-anchor="middle" font-weight="bold" stroke="#00ff00" stroke-width="0.4">批准</text>
<text x="586.0" y="465.9" font-size="2.4" fill="#00ff00" text-anchor="middle" font-weight="bold" stroke="#00ff00" stroke-width="0.4">阶段标记</text>
<text x="599.0" y="465.9" font-size="2.4" fill="#00ff00" text-anchor="middle" font-weight="bold" stroke="#00ff00" stroke-width="0.4">重量</text>
<text x="607.0" y="465.9" font-size="2.4" fill="#00ff00" text-anchor="middle" font-weight="bold" stroke="#00ff00" stroke-width="0.4">比例</text>
<text x="599.0" y="469.9" font-size="2.4" fill="#00ff00" text-anchor="middle" font-weight="bold" stroke="#00ff00" stroke-width="0.4">1:10</text>
<text x="586.0" y="473.7" font-size="2.4" fill="#00ff00" text-anchor="middle" font-weight="bold" stroke="#00ff00" stroke-width="0.4">共1张</text>
<text x="603.0" y="473.7" font-size="2.4" fill="#00ff00" text-anchor="middle" font-weight="bold" stroke="#00ff00" stroke-width="0.4">第1张</text>
</svg>
</body></html>
